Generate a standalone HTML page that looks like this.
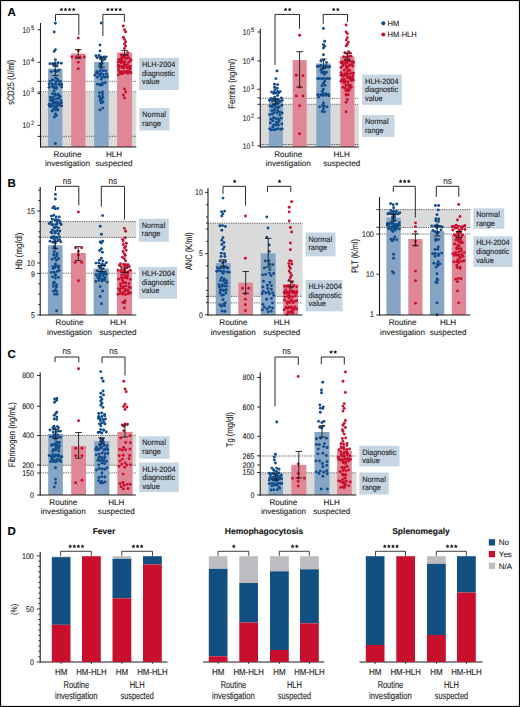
<!DOCTYPE html>
<html><head><meta charset="utf-8"><style>
html,body{margin:0;padding:0;background:#fff;}
svg{display:block;font-family:"Liberation Sans", sans-serif;text-rendering:geometricPrecision;}
text{stroke:#2a2a2a;stroke-width:0.12px;}
</style></head><body>
<svg width="520" height="707" viewBox="0 0 520 707">
<rect x="0.00" y="0.00" width="520.00" height="707.00" fill="#fff"/>
<rect x="0.5" y="0.5" width="519" height="706" fill="none" stroke="#000" stroke-width="1.2"/>
<text x="7.50" y="15.50" font-size="11.5" text-anchor="start" font-weight="bold" fill="#000">A</text>
<text x="7.50" y="187.00" font-size="11.5" text-anchor="start" font-weight="bold" fill="#000">B</text>
<text x="7.50" y="358.00" font-size="11.5" text-anchor="start" font-weight="bold" fill="#000">C</text>
<text x="7.50" y="535.00" font-size="11.5" text-anchor="start" font-weight="bold" fill="#000">D</text>
<rect x="40.50" y="92.60" width="95.80" height="54.40" fill="#dadada"/>
<line x1="40.50" y1="81.30" x2="136.30" y2="81.30" stroke="#4a4a4a" stroke-width="0.85" stroke-dasharray="1.3,1.0"/>
<line x1="40.50" y1="91.80" x2="136.30" y2="91.80" stroke="#4a4a4a" stroke-width="0.85" stroke-dasharray="1.3,1.0"/>
<line x1="40.50" y1="136.30" x2="136.30" y2="136.30" stroke="#4a4a4a" stroke-width="0.85" stroke-dasharray="1.3,1.0"/>
<rect x="48.10" y="68.60" width="14.30" height="78.40" fill="#86a5c4"/>
<rect x="71.20" y="53.50" width="14.30" height="93.50" fill="#df8796"/>
<rect x="94.20" y="62.00" width="14.50" height="85.00" fill="#86a5c4"/>
<rect x="117.10" y="52.50" width="15.00" height="94.50" fill="#df8796"/>
<circle cx="55.40" cy="23.30" r="1.45" fill="#104c8a"/>
<circle cx="54.20" cy="32.00" r="1.45" fill="#104c8a"/>
<circle cx="55.40" cy="49.60" r="1.45" fill="#104c8a"/>
<circle cx="54.20" cy="51.40" r="1.45" fill="#104c8a"/>
<circle cx="55.40" cy="59.80" r="1.45" fill="#104c8a"/>
<circle cx="49.97" cy="63.65" r="1.45" fill="#104c8a"/>
<circle cx="52.56" cy="63.77" r="1.45" fill="#104c8a"/>
<circle cx="55.05" cy="62.88" r="1.45" fill="#104c8a"/>
<circle cx="58.09" cy="62.70" r="1.45" fill="#104c8a"/>
<circle cx="61.27" cy="63.24" r="1.45" fill="#104c8a"/>
<circle cx="53.97" cy="65.80" r="1.45" fill="#104c8a"/>
<circle cx="57.06" cy="66.00" r="1.45" fill="#104c8a"/>
<circle cx="51.07" cy="71.58" r="1.45" fill="#104c8a"/>
<circle cx="54.41" cy="70.90" r="1.45" fill="#104c8a"/>
<circle cx="56.86" cy="71.30" r="1.45" fill="#104c8a"/>
<circle cx="58.97" cy="70.19" r="1.45" fill="#104c8a"/>
<circle cx="52.13" cy="79.91" r="1.45" fill="#104c8a"/>
<circle cx="55.58" cy="78.07" r="1.45" fill="#104c8a"/>
<circle cx="57.51" cy="79.08" r="1.45" fill="#104c8a"/>
<circle cx="50.03" cy="81.36" r="1.45" fill="#104c8a"/>
<circle cx="53.02" cy="80.09" r="1.45" fill="#104c8a"/>
<circle cx="55.93" cy="81.43" r="1.45" fill="#104c8a"/>
<circle cx="58.16" cy="81.03" r="1.45" fill="#104c8a"/>
<circle cx="60.61" cy="81.41" r="1.45" fill="#104c8a"/>
<circle cx="49.10" cy="84.10" r="1.45" fill="#104c8a"/>
<circle cx="52.12" cy="84.03" r="1.45" fill="#104c8a"/>
<circle cx="54.65" cy="84.23" r="1.45" fill="#104c8a"/>
<circle cx="56.18" cy="84.20" r="1.45" fill="#104c8a"/>
<circle cx="59.34" cy="84.06" r="1.45" fill="#104c8a"/>
<circle cx="61.70" cy="84.26" r="1.45" fill="#104c8a"/>
<circle cx="49.11" cy="87.24" r="1.45" fill="#104c8a"/>
<circle cx="52.11" cy="86.34" r="1.45" fill="#104c8a"/>
<circle cx="53.77" cy="87.13" r="1.45" fill="#104c8a"/>
<circle cx="56.40" cy="87.43" r="1.45" fill="#104c8a"/>
<circle cx="59.75" cy="85.06" r="1.45" fill="#104c8a"/>
<circle cx="61.70" cy="86.91" r="1.45" fill="#104c8a"/>
<circle cx="54.16" cy="87.94" r="1.45" fill="#104c8a"/>
<circle cx="56.19" cy="88.58" r="1.45" fill="#104c8a"/>
<circle cx="54.20" cy="91.10" r="1.45" fill="#104c8a"/>
<circle cx="52.60" cy="93.62" r="1.45" fill="#104c8a"/>
<circle cx="55.01" cy="94.15" r="1.45" fill="#104c8a"/>
<circle cx="58.16" cy="94.23" r="1.45" fill="#104c8a"/>
<circle cx="50.33" cy="97.42" r="1.45" fill="#104c8a"/>
<circle cx="52.73" cy="97.25" r="1.45" fill="#104c8a"/>
<circle cx="55.27" cy="95.45" r="1.45" fill="#104c8a"/>
<circle cx="58.09" cy="95.28" r="1.45" fill="#104c8a"/>
<circle cx="60.24" cy="96.57" r="1.45" fill="#104c8a"/>
<circle cx="51.53" cy="99.87" r="1.45" fill="#104c8a"/>
<circle cx="53.65" cy="99.33" r="1.45" fill="#104c8a"/>
<circle cx="56.42" cy="98.94" r="1.45" fill="#104c8a"/>
<circle cx="58.86" cy="98.16" r="1.45" fill="#104c8a"/>
<circle cx="50.54" cy="100.39" r="1.45" fill="#104c8a"/>
<circle cx="52.79" cy="101.57" r="1.45" fill="#104c8a"/>
<circle cx="55.35" cy="102.13" r="1.45" fill="#104c8a"/>
<circle cx="57.82" cy="102.23" r="1.45" fill="#104c8a"/>
<circle cx="60.86" cy="100.49" r="1.45" fill="#104c8a"/>
<circle cx="49.10" cy="104.25" r="1.45" fill="#104c8a"/>
<circle cx="50.37" cy="104.38" r="1.45" fill="#104c8a"/>
<circle cx="53.14" cy="103.35" r="1.45" fill="#104c8a"/>
<circle cx="54.58" cy="102.66" r="1.45" fill="#104c8a"/>
<circle cx="55.94" cy="103.77" r="1.45" fill="#104c8a"/>
<circle cx="58.11" cy="104.14" r="1.45" fill="#104c8a"/>
<circle cx="59.88" cy="103.71" r="1.45" fill="#104c8a"/>
<circle cx="61.53" cy="102.64" r="1.45" fill="#104c8a"/>
<circle cx="49.47" cy="106.00" r="1.45" fill="#104c8a"/>
<circle cx="51.36" cy="106.47" r="1.45" fill="#104c8a"/>
<circle cx="53.36" cy="105.79" r="1.45" fill="#104c8a"/>
<circle cx="55.02" cy="107.17" r="1.45" fill="#104c8a"/>
<circle cx="57.01" cy="106.18" r="1.45" fill="#104c8a"/>
<circle cx="59.66" cy="105.37" r="1.45" fill="#104c8a"/>
<circle cx="61.70" cy="105.89" r="1.45" fill="#104c8a"/>
<circle cx="53.11" cy="109.76" r="1.45" fill="#104c8a"/>
<circle cx="55.61" cy="107.90" r="1.45" fill="#104c8a"/>
<circle cx="57.60" cy="109.57" r="1.45" fill="#104c8a"/>
<circle cx="52.12" cy="111.11" r="1.45" fill="#104c8a"/>
<circle cx="55.71" cy="110.08" r="1.45" fill="#104c8a"/>
<circle cx="57.80" cy="110.03" r="1.45" fill="#104c8a"/>
<circle cx="55.40" cy="114.00" r="1.45" fill="#104c8a"/>
<circle cx="54.41" cy="117.00" r="1.45" fill="#104c8a"/>
<circle cx="56.37" cy="115.50" r="1.45" fill="#104c8a"/>
<circle cx="55.40" cy="143.50" r="1.45" fill="#104c8a"/>
<circle cx="78.30" cy="38.00" r="1.45" fill="#c8102e"/>
<circle cx="78.30" cy="50.80" r="1.45" fill="#c8102e"/>
<circle cx="71.90" cy="57.00" r="1.45" fill="#c8102e"/>
<circle cx="76.20" cy="57.00" r="1.45" fill="#c8102e"/>
<circle cx="80.10" cy="57.00" r="1.45" fill="#c8102e"/>
<circle cx="84.30" cy="57.00" r="1.45" fill="#c8102e"/>
<circle cx="78.30" cy="62.20" r="1.45" fill="#c8102e"/>
<circle cx="78.30" cy="68.80" r="1.45" fill="#c8102e"/>
<circle cx="101.20" cy="23.00" r="1.45" fill="#104c8a"/>
<circle cx="100.00" cy="45.00" r="1.45" fill="#104c8a"/>
<circle cx="100.00" cy="50.90" r="1.45" fill="#104c8a"/>
<circle cx="95.93" cy="55.81" r="1.45" fill="#104c8a"/>
<circle cx="98.99" cy="55.48" r="1.45" fill="#104c8a"/>
<circle cx="101.16" cy="57.01" r="1.45" fill="#104c8a"/>
<circle cx="103.96" cy="56.88" r="1.45" fill="#104c8a"/>
<circle cx="106.23" cy="56.85" r="1.45" fill="#104c8a"/>
<circle cx="97.03" cy="57.69" r="1.45" fill="#104c8a"/>
<circle cx="100.28" cy="58.77" r="1.45" fill="#104c8a"/>
<circle cx="102.23" cy="59.14" r="1.45" fill="#104c8a"/>
<circle cx="104.83" cy="59.28" r="1.45" fill="#104c8a"/>
<circle cx="102.40" cy="60.59" r="1.45" fill="#104c8a"/>
<circle cx="100.06" cy="64.05" r="1.45" fill="#104c8a"/>
<circle cx="102.03" cy="63.51" r="1.45" fill="#104c8a"/>
<circle cx="100.00" cy="65.47" r="1.45" fill="#104c8a"/>
<circle cx="101.20" cy="67.94" r="1.45" fill="#104c8a"/>
<circle cx="97.12" cy="71.58" r="1.45" fill="#104c8a"/>
<circle cx="100.11" cy="70.75" r="1.45" fill="#104c8a"/>
<circle cx="103.00" cy="70.71" r="1.45" fill="#104c8a"/>
<circle cx="105.51" cy="70.81" r="1.45" fill="#104c8a"/>
<circle cx="96.36" cy="72.69" r="1.45" fill="#104c8a"/>
<circle cx="98.06" cy="73.41" r="1.45" fill="#104c8a"/>
<circle cx="101.04" cy="73.48" r="1.45" fill="#104c8a"/>
<circle cx="103.34" cy="74.79" r="1.45" fill="#104c8a"/>
<circle cx="106.59" cy="74.01" r="1.45" fill="#104c8a"/>
<circle cx="94.99" cy="75.16" r="1.45" fill="#104c8a"/>
<circle cx="97.46" cy="77.24" r="1.45" fill="#104c8a"/>
<circle cx="99.83" cy="75.43" r="1.45" fill="#104c8a"/>
<circle cx="102.14" cy="77.41" r="1.45" fill="#104c8a"/>
<circle cx="104.78" cy="77.19" r="1.45" fill="#104c8a"/>
<circle cx="107.50" cy="76.72" r="1.45" fill="#104c8a"/>
<circle cx="101.20" cy="79.33" r="1.45" fill="#104c8a"/>
<circle cx="97.39" cy="84.14" r="1.45" fill="#104c8a"/>
<circle cx="99.64" cy="84.52" r="1.45" fill="#104c8a"/>
<circle cx="102.60" cy="82.96" r="1.45" fill="#104c8a"/>
<circle cx="105.34" cy="82.74" r="1.45" fill="#104c8a"/>
<circle cx="100.11" cy="85.12" r="1.45" fill="#104c8a"/>
<circle cx="102.20" cy="85.05" r="1.45" fill="#104c8a"/>
<circle cx="102.40" cy="92.01" r="1.45" fill="#104c8a"/>
<circle cx="99.40" cy="92.80" r="1.45" fill="#104c8a"/>
<circle cx="102.53" cy="94.47" r="1.45" fill="#104c8a"/>
<circle cx="99.36" cy="96.20" r="1.45" fill="#104c8a"/>
<circle cx="102.91" cy="97.23" r="1.45" fill="#104c8a"/>
<circle cx="100.33" cy="97.95" r="1.45" fill="#104c8a"/>
<circle cx="101.97" cy="98.98" r="1.45" fill="#104c8a"/>
<circle cx="100.17" cy="100.45" r="1.45" fill="#104c8a"/>
<circle cx="103.00" cy="102.05" r="1.45" fill="#104c8a"/>
<circle cx="101.20" cy="102.91" r="1.45" fill="#104c8a"/>
<circle cx="99.98" cy="109.89" r="1.45" fill="#104c8a"/>
<circle cx="102.86" cy="108.10" r="1.45" fill="#104c8a"/>
<circle cx="123.30" cy="26.00" r="1.45" fill="#c8102e"/>
<circle cx="124.50" cy="29.70" r="1.45" fill="#c8102e"/>
<circle cx="125.70" cy="31.90" r="1.45" fill="#c8102e"/>
<circle cx="123.30" cy="37.26" r="1.45" fill="#c8102e"/>
<circle cx="124.50" cy="39.41" r="1.45" fill="#c8102e"/>
<circle cx="125.70" cy="41.82" r="1.45" fill="#c8102e"/>
<circle cx="124.50" cy="43.91" r="1.45" fill="#c8102e"/>
<circle cx="125.70" cy="46.09" r="1.45" fill="#c8102e"/>
<circle cx="124.50" cy="48.52" r="1.45" fill="#c8102e"/>
<circle cx="121.28" cy="54.83" r="1.45" fill="#c8102e"/>
<circle cx="124.38" cy="54.96" r="1.45" fill="#c8102e"/>
<circle cx="127.70" cy="52.82" r="1.45" fill="#c8102e"/>
<circle cx="121.82" cy="57.20" r="1.45" fill="#c8102e"/>
<circle cx="124.33" cy="57.26" r="1.45" fill="#c8102e"/>
<circle cx="127.54" cy="55.40" r="1.45" fill="#c8102e"/>
<circle cx="118.56" cy="59.61" r="1.45" fill="#c8102e"/>
<circle cx="119.93" cy="59.40" r="1.45" fill="#c8102e"/>
<circle cx="122.17" cy="59.71" r="1.45" fill="#c8102e"/>
<circle cx="124.65" cy="58.06" r="1.45" fill="#c8102e"/>
<circle cx="126.88" cy="58.38" r="1.45" fill="#c8102e"/>
<circle cx="129.13" cy="58.01" r="1.45" fill="#c8102e"/>
<circle cx="130.80" cy="60.00" r="1.45" fill="#c8102e"/>
<circle cx="118.21" cy="62.16" r="1.45" fill="#c8102e"/>
<circle cx="120.33" cy="61.55" r="1.45" fill="#c8102e"/>
<circle cx="123.21" cy="61.98" r="1.45" fill="#c8102e"/>
<circle cx="125.27" cy="61.62" r="1.45" fill="#c8102e"/>
<circle cx="128.80" cy="62.08" r="1.45" fill="#c8102e"/>
<circle cx="130.80" cy="60.39" r="1.45" fill="#c8102e"/>
<circle cx="121.21" cy="62.78" r="1.45" fill="#c8102e"/>
<circle cx="124.25" cy="64.10" r="1.45" fill="#c8102e"/>
<circle cx="127.45" cy="64.42" r="1.45" fill="#c8102e"/>
<circle cx="118.20" cy="65.17" r="1.45" fill="#c8102e"/>
<circle cx="119.59" cy="65.81" r="1.45" fill="#c8102e"/>
<circle cx="121.57" cy="66.38" r="1.45" fill="#c8102e"/>
<circle cx="123.98" cy="65.86" r="1.45" fill="#c8102e"/>
<circle cx="124.85" cy="65.21" r="1.45" fill="#c8102e"/>
<circle cx="126.66" cy="67.05" r="1.45" fill="#c8102e"/>
<circle cx="129.15" cy="66.59" r="1.45" fill="#c8102e"/>
<circle cx="130.54" cy="66.34" r="1.45" fill="#c8102e"/>
<circle cx="118.67" cy="67.54" r="1.45" fill="#c8102e"/>
<circle cx="122.01" cy="67.67" r="1.45" fill="#c8102e"/>
<circle cx="123.98" cy="68.05" r="1.45" fill="#c8102e"/>
<circle cx="127.70" cy="68.06" r="1.45" fill="#c8102e"/>
<circle cx="130.06" cy="68.89" r="1.45" fill="#c8102e"/>
<circle cx="118.36" cy="70.01" r="1.45" fill="#c8102e"/>
<circle cx="119.64" cy="72.17" r="1.45" fill="#c8102e"/>
<circle cx="121.59" cy="71.82" r="1.45" fill="#c8102e"/>
<circle cx="124.01" cy="71.51" r="1.45" fill="#c8102e"/>
<circle cx="125.65" cy="72.30" r="1.45" fill="#c8102e"/>
<circle cx="126.93" cy="71.29" r="1.45" fill="#c8102e"/>
<circle cx="129.10" cy="71.40" r="1.45" fill="#c8102e"/>
<circle cx="130.80" cy="72.50" r="1.45" fill="#c8102e"/>
<circle cx="118.20" cy="74.95" r="1.45" fill="#c8102e"/>
<circle cx="120.55" cy="73.78" r="1.45" fill="#c8102e"/>
<circle cx="122.74" cy="73.65" r="1.45" fill="#c8102e"/>
<circle cx="126.32" cy="72.81" r="1.45" fill="#c8102e"/>
<circle cx="128.02" cy="73.30" r="1.45" fill="#c8102e"/>
<circle cx="130.80" cy="72.77" r="1.45" fill="#c8102e"/>
<circle cx="124.50" cy="89.00" r="1.45" fill="#c8102e"/>
<circle cx="125.70" cy="92.00" r="1.45" fill="#c8102e"/>
<circle cx="123.30" cy="95.00" r="1.45" fill="#c8102e"/>
<circle cx="124.50" cy="98.00" r="1.45" fill="#c8102e"/>
<path d="M52.10,64.00 H58.50 M55.30,64.00 V75.60 M52.10,75.60 H58.50" fill="none" stroke="#1a1a1a" stroke-width="0.9"/>
<path d="M75.10,49.60 H81.50 M78.30,49.60 V58.30 M75.10,58.30 H81.50" fill="none" stroke="#1a1a1a" stroke-width="0.9"/>
<path d="M98.30,57.30 H104.70 M101.50,57.30 V67.00 M98.30,67.00 H104.70" fill="none" stroke="#1a1a1a" stroke-width="0.9"/>
<path d="M121.40,50.60 H127.80 M124.60,50.60 V55.00 M121.40,55.00 H127.80" fill="none" stroke="#1a1a1a" stroke-width="0.9"/>
<line x1="40.50" y1="23.00" x2="40.50" y2="147.50" stroke="#1a1a1a" stroke-width="1.1"/>
<line x1="40.00" y1="147.00" x2="136.30" y2="147.00" stroke="#1a1a1a" stroke-width="1.1"/>
<line x1="37.50" y1="29.80" x2="40.50" y2="29.80" stroke="#1a1a1a" stroke-width="0.9"/>
<line x1="37.50" y1="62.30" x2="40.50" y2="62.30" stroke="#1a1a1a" stroke-width="0.9"/>
<line x1="37.50" y1="81.40" x2="40.50" y2="81.40" stroke="#1a1a1a" stroke-width="0.9"/>
<line x1="37.50" y1="92.00" x2="40.50" y2="92.00" stroke="#1a1a1a" stroke-width="0.9"/>
<line x1="37.50" y1="93.60" x2="40.50" y2="93.60" stroke="#1a1a1a" stroke-width="0.9"/>
<line x1="37.50" y1="125.40" x2="40.50" y2="125.40" stroke="#1a1a1a" stroke-width="0.9"/>
<line x1="37.50" y1="136.40" x2="40.50" y2="136.40" stroke="#1a1a1a" stroke-width="0.9"/>
<text x="22.60" y="32.80" font-size="8.3" fill="#222" textLength="7.4" lengthAdjust="spacingAndGlyphs">10</text>
<text x="30.90" y="29.60" font-size="6.3" fill="#222" textLength="3.1" lengthAdjust="spacingAndGlyphs">5</text>
<text x="22.60" y="65.30" font-size="8.3" fill="#222" textLength="7.4" lengthAdjust="spacingAndGlyphs">10</text>
<text x="30.90" y="62.10" font-size="6.3" fill="#222" textLength="3.1" lengthAdjust="spacingAndGlyphs">4</text>
<text x="22.60" y="95.50" font-size="8.3" fill="#222" textLength="7.4" lengthAdjust="spacingAndGlyphs">10</text>
<text x="30.90" y="92.30" font-size="6.3" fill="#222" textLength="3.1" lengthAdjust="spacingAndGlyphs">3</text>
<text x="22.60" y="128.40" font-size="8.3" fill="#222" textLength="7.4" lengthAdjust="spacingAndGlyphs">10</text>
<text x="30.90" y="125.20" font-size="6.3" fill="#222" textLength="3.1" lengthAdjust="spacingAndGlyphs">2</text>
<text x="0" y="0" font-size="9.5" text-anchor="middle" fill="#222" transform="translate(14.40,82.30) rotate(-90)" textLength="45" lengthAdjust="spacingAndGlyphs">sCD25 (U/ml)</text>
<path d="M55.50,21.00 V14.40 H78.80 V35.00" fill="none" stroke="#2a2a2a" stroke-width="1.0"/>
<polygon points="61.40,7.40 61.99,8.68 63.40,8.85 62.36,9.81 62.63,11.20 61.40,10.51 60.17,11.20 60.44,9.81 59.40,8.85 60.81,8.68" fill="#1a1a1a"/>
<polygon points="65.50,7.40 66.09,8.68 67.50,8.85 66.46,9.81 66.73,11.20 65.50,10.51 64.27,11.20 64.54,9.81 63.50,8.85 64.91,8.68" fill="#1a1a1a"/>
<polygon points="69.60,7.40 70.19,8.68 71.60,8.85 70.56,9.81 70.83,11.20 69.60,10.51 68.37,11.20 68.64,9.81 67.60,8.85 69.01,8.68" fill="#1a1a1a"/>
<polygon points="73.70,7.40 74.29,8.68 75.70,8.85 74.66,9.81 74.93,11.20 73.70,10.51 72.47,11.20 72.74,9.81 71.70,8.85 73.11,8.68" fill="#1a1a1a"/>
<path d="M102.90,36.00 V14.40 H124.40 V22.00" fill="none" stroke="#2a2a2a" stroke-width="1.0"/>
<polygon points="107.90,7.40 108.49,8.68 109.90,8.85 108.86,9.81 109.13,11.20 107.90,10.51 106.67,11.20 106.94,9.81 105.90,8.85 107.31,8.68" fill="#1a1a1a"/>
<polygon points="112.00,7.40 112.59,8.68 114.00,8.85 112.96,9.81 113.23,11.20 112.00,10.51 110.77,11.20 111.04,9.81 110.00,8.85 111.41,8.68" fill="#1a1a1a"/>
<polygon points="116.10,7.40 116.69,8.68 118.10,8.85 117.06,9.81 117.33,11.20 116.10,10.51 114.87,11.20 115.14,9.81 114.10,8.85 115.51,8.68" fill="#1a1a1a"/>
<polygon points="120.20,7.40 120.79,8.68 122.20,8.85 121.16,9.81 121.43,11.20 120.20,10.51 118.97,11.20 119.24,9.81 118.20,8.85 119.61,8.68" fill="#1a1a1a"/>
<text x="67.50" y="157.10" font-size="8.1" text-anchor="middle" font-weight="normal" fill="#222">Routine</text>
<text x="67.50" y="166.20" font-size="8.1" text-anchor="middle" font-weight="normal" fill="#222">investigation</text>
<text x="114.00" y="157.10" font-size="8.1" text-anchor="middle" font-weight="normal" fill="#222">HLH</text>
<text x="114.00" y="166.20" font-size="8.1" text-anchor="middle" font-weight="normal" fill="#222">suspected</text>
<rect x="139.10" y="57.90" width="39.80" height="32.10" fill="#c6d5e2"/>
<text x="142.00" y="66.90" font-size="7.8" text-anchor="start" font-weight="normal" fill="#222" textLength="33.42" lengthAdjust="spacingAndGlyphs">HLH-2004</text>
<text x="142.00" y="75.50" font-size="7.8" text-anchor="start" font-weight="normal" fill="#222" textLength="33.02" lengthAdjust="spacingAndGlyphs">diagnostic</text>
<text x="142.00" y="84.10" font-size="7.8" text-anchor="start" font-weight="normal" fill="#222" textLength="17.53" lengthAdjust="spacingAndGlyphs">value</text>
<rect x="139.40" y="108.00" width="30.10" height="22.50" fill="#c6d5e2"/>
<text x="142.30" y="117.00" font-size="7.8" text-anchor="start" font-weight="normal" fill="#222" textLength="23.63" lengthAdjust="spacingAndGlyphs">Normal</text>
<text x="142.30" y="125.60" font-size="7.8" text-anchor="start" font-weight="normal" fill="#222" textLength="18.75" lengthAdjust="spacingAndGlyphs">range</text>
<rect x="260.30" y="104.60" width="98.50" height="42.40" fill="#dadada"/>
<line x1="260.30" y1="98.30" x2="358.80" y2="98.30" stroke="#4a4a4a" stroke-width="0.85" stroke-dasharray="1.3,1.0"/>
<line x1="260.30" y1="104.30" x2="358.80" y2="104.30" stroke="#4a4a4a" stroke-width="0.85" stroke-dasharray="1.3,1.0"/>
<line x1="260.30" y1="144.50" x2="358.80" y2="144.50" stroke="#4a4a4a" stroke-width="0.85" stroke-dasharray="1.3,1.0"/>
<rect x="268.80" y="101.40" width="14.10" height="45.60" fill="#86a5c4"/>
<rect x="292.60" y="60.10" width="14.10" height="86.90" fill="#df8796"/>
<rect x="316.30" y="63.40" width="14.20" height="83.60" fill="#86a5c4"/>
<rect x="340.40" y="56.60" width="14.10" height="90.40" fill="#df8796"/>
<circle cx="277.10" cy="71.00" r="1.45" fill="#104c8a"/>
<circle cx="275.90" cy="78.60" r="1.45" fill="#104c8a"/>
<circle cx="274.49" cy="84.20" r="1.45" fill="#104c8a"/>
<circle cx="277.68" cy="84.60" r="1.45" fill="#104c8a"/>
<circle cx="274.70" cy="87.13" r="1.45" fill="#104c8a"/>
<circle cx="274.91" cy="89.64" r="1.45" fill="#104c8a"/>
<circle cx="277.22" cy="88.22" r="1.45" fill="#104c8a"/>
<circle cx="271.61" cy="92.09" r="1.45" fill="#104c8a"/>
<circle cx="274.06" cy="92.14" r="1.45" fill="#104c8a"/>
<circle cx="277.62" cy="91.43" r="1.45" fill="#104c8a"/>
<circle cx="280.18" cy="91.59" r="1.45" fill="#104c8a"/>
<circle cx="273.76" cy="93.56" r="1.45" fill="#104c8a"/>
<circle cx="276.08" cy="93.05" r="1.45" fill="#104c8a"/>
<circle cx="278.74" cy="92.72" r="1.45" fill="#104c8a"/>
<circle cx="274.70" cy="97.09" r="1.45" fill="#104c8a"/>
<circle cx="277.65" cy="95.52" r="1.45" fill="#104c8a"/>
<circle cx="270.96" cy="98.48" r="1.45" fill="#104c8a"/>
<circle cx="273.32" cy="98.96" r="1.45" fill="#104c8a"/>
<circle cx="276.23" cy="99.34" r="1.45" fill="#104c8a"/>
<circle cx="278.39" cy="99.91" r="1.45" fill="#104c8a"/>
<circle cx="281.41" cy="98.02" r="1.45" fill="#104c8a"/>
<circle cx="269.60" cy="100.25" r="1.45" fill="#104c8a"/>
<circle cx="272.31" cy="100.90" r="1.45" fill="#104c8a"/>
<circle cx="274.59" cy="100.79" r="1.45" fill="#104c8a"/>
<circle cx="276.89" cy="101.78" r="1.45" fill="#104c8a"/>
<circle cx="280.28" cy="101.23" r="1.45" fill="#104c8a"/>
<circle cx="282.20" cy="100.34" r="1.45" fill="#104c8a"/>
<circle cx="272.98" cy="104.71" r="1.45" fill="#104c8a"/>
<circle cx="275.58" cy="104.09" r="1.45" fill="#104c8a"/>
<circle cx="278.35" cy="103.04" r="1.45" fill="#104c8a"/>
<circle cx="270.02" cy="105.88" r="1.45" fill="#104c8a"/>
<circle cx="271.98" cy="106.63" r="1.45" fill="#104c8a"/>
<circle cx="275.19" cy="105.74" r="1.45" fill="#104c8a"/>
<circle cx="277.58" cy="107.25" r="1.45" fill="#104c8a"/>
<circle cx="279.08" cy="106.90" r="1.45" fill="#104c8a"/>
<circle cx="281.85" cy="105.35" r="1.45" fill="#104c8a"/>
<circle cx="274.51" cy="108.64" r="1.45" fill="#104c8a"/>
<circle cx="277.83" cy="108.09" r="1.45" fill="#104c8a"/>
<circle cx="271.93" cy="110.81" r="1.45" fill="#104c8a"/>
<circle cx="274.19" cy="110.37" r="1.45" fill="#104c8a"/>
<circle cx="277.46" cy="110.72" r="1.45" fill="#104c8a"/>
<circle cx="279.75" cy="112.10" r="1.45" fill="#104c8a"/>
<circle cx="269.60" cy="114.61" r="1.45" fill="#104c8a"/>
<circle cx="272.37" cy="113.99" r="1.45" fill="#104c8a"/>
<circle cx="274.05" cy="112.85" r="1.45" fill="#104c8a"/>
<circle cx="277.12" cy="112.63" r="1.45" fill="#104c8a"/>
<circle cx="279.66" cy="114.91" r="1.45" fill="#104c8a"/>
<circle cx="282.20" cy="113.04" r="1.45" fill="#104c8a"/>
<circle cx="271.08" cy="119.20" r="1.45" fill="#104c8a"/>
<circle cx="273.52" cy="117.70" r="1.45" fill="#104c8a"/>
<circle cx="275.80" cy="118.49" r="1.45" fill="#104c8a"/>
<circle cx="278.46" cy="118.93" r="1.45" fill="#104c8a"/>
<circle cx="281.17" cy="118.14" r="1.45" fill="#104c8a"/>
<circle cx="272.92" cy="120.65" r="1.45" fill="#104c8a"/>
<circle cx="276.47" cy="122.26" r="1.45" fill="#104c8a"/>
<circle cx="278.96" cy="120.19" r="1.45" fill="#104c8a"/>
<circle cx="270.37" cy="122.91" r="1.45" fill="#104c8a"/>
<circle cx="273.63" cy="124.96" r="1.45" fill="#104c8a"/>
<circle cx="276.07" cy="124.89" r="1.45" fill="#104c8a"/>
<circle cx="278.12" cy="122.52" r="1.45" fill="#104c8a"/>
<circle cx="281.89" cy="123.91" r="1.45" fill="#104c8a"/>
<circle cx="272.91" cy="127.13" r="1.45" fill="#104c8a"/>
<circle cx="276.23" cy="125.11" r="1.45" fill="#104c8a"/>
<circle cx="278.39" cy="125.09" r="1.45" fill="#104c8a"/>
<circle cx="269.70" cy="128.85" r="1.45" fill="#104c8a"/>
<circle cx="271.39" cy="129.92" r="1.45" fill="#104c8a"/>
<circle cx="273.92" cy="129.86" r="1.45" fill="#104c8a"/>
<circle cx="275.75" cy="129.43" r="1.45" fill="#104c8a"/>
<circle cx="277.94" cy="128.66" r="1.45" fill="#104c8a"/>
<circle cx="280.65" cy="129.37" r="1.45" fill="#104c8a"/>
<circle cx="282.18" cy="128.87" r="1.45" fill="#104c8a"/>
<circle cx="299.60" cy="35.30" r="1.45" fill="#c8102e"/>
<circle cx="296.30" cy="75.20" r="1.45" fill="#c8102e"/>
<circle cx="303.00" cy="75.60" r="1.45" fill="#c8102e"/>
<circle cx="299.60" cy="87.00" r="1.45" fill="#c8102e"/>
<circle cx="296.30" cy="96.00" r="1.45" fill="#c8102e"/>
<circle cx="303.00" cy="96.00" r="1.45" fill="#c8102e"/>
<circle cx="299.60" cy="105.70" r="1.45" fill="#c8102e"/>
<circle cx="299.60" cy="133.80" r="1.45" fill="#c8102e"/>
<circle cx="323.40" cy="28.50" r="1.45" fill="#104c8a"/>
<circle cx="324.60" cy="41.20" r="1.45" fill="#104c8a"/>
<circle cx="323.40" cy="44.60" r="1.45" fill="#104c8a"/>
<circle cx="324.60" cy="46.30" r="1.45" fill="#104c8a"/>
<circle cx="323.40" cy="48.00" r="1.45" fill="#104c8a"/>
<circle cx="323.40" cy="54.80" r="1.45" fill="#104c8a"/>
<circle cx="320.88" cy="61.00" r="1.45" fill="#104c8a"/>
<circle cx="323.60" cy="60.00" r="1.45" fill="#104c8a"/>
<circle cx="326.54" cy="62.40" r="1.45" fill="#104c8a"/>
<circle cx="317.39" cy="66.57" r="1.45" fill="#104c8a"/>
<circle cx="318.64" cy="66.23" r="1.45" fill="#104c8a"/>
<circle cx="320.85" cy="65.56" r="1.45" fill="#104c8a"/>
<circle cx="323.62" cy="66.70" r="1.45" fill="#104c8a"/>
<circle cx="326.10" cy="65.77" r="1.45" fill="#104c8a"/>
<circle cx="328.19" cy="67.11" r="1.45" fill="#104c8a"/>
<circle cx="329.70" cy="66.77" r="1.45" fill="#104c8a"/>
<circle cx="322.50" cy="69.18" r="1.45" fill="#104c8a"/>
<circle cx="325.12" cy="67.54" r="1.45" fill="#104c8a"/>
<circle cx="320.99" cy="70.38" r="1.45" fill="#104c8a"/>
<circle cx="323.94" cy="72.22" r="1.45" fill="#104c8a"/>
<circle cx="326.45" cy="72.21" r="1.45" fill="#104c8a"/>
<circle cx="321.88" cy="72.81" r="1.45" fill="#104c8a"/>
<circle cx="324.43" cy="74.19" r="1.45" fill="#104c8a"/>
<circle cx="317.57" cy="78.60" r="1.45" fill="#104c8a"/>
<circle cx="319.37" cy="78.60" r="1.45" fill="#104c8a"/>
<circle cx="321.49" cy="78.60" r="1.45" fill="#104c8a"/>
<circle cx="323.22" cy="78.60" r="1.45" fill="#104c8a"/>
<circle cx="325.61" cy="78.60" r="1.45" fill="#104c8a"/>
<circle cx="327.76" cy="78.60" r="1.45" fill="#104c8a"/>
<circle cx="329.42" cy="78.60" r="1.45" fill="#104c8a"/>
<circle cx="324.60" cy="81.25" r="1.45" fill="#104c8a"/>
<circle cx="323.40" cy="83.49" r="1.45" fill="#104c8a"/>
<circle cx="321.98" cy="85.69" r="1.45" fill="#104c8a"/>
<circle cx="325.02" cy="85.36" r="1.45" fill="#104c8a"/>
<circle cx="323.40" cy="89.28" r="1.45" fill="#104c8a"/>
<circle cx="322.20" cy="91.34" r="1.45" fill="#104c8a"/>
<circle cx="317.70" cy="94.77" r="1.45" fill="#104c8a"/>
<circle cx="320.65" cy="94.70" r="1.45" fill="#104c8a"/>
<circle cx="323.53" cy="93.66" r="1.45" fill="#104c8a"/>
<circle cx="325.97" cy="93.84" r="1.45" fill="#104c8a"/>
<circle cx="328.36" cy="94.49" r="1.45" fill="#104c8a"/>
<circle cx="318.46" cy="97.14" r="1.45" fill="#104c8a"/>
<circle cx="320.94" cy="95.05" r="1.45" fill="#104c8a"/>
<circle cx="322.96" cy="95.45" r="1.45" fill="#104c8a"/>
<circle cx="326.02" cy="95.24" r="1.45" fill="#104c8a"/>
<circle cx="328.95" cy="95.81" r="1.45" fill="#104c8a"/>
<circle cx="323.40" cy="102.97" r="1.45" fill="#104c8a"/>
<circle cx="319.61" cy="106.87" r="1.45" fill="#104c8a"/>
<circle cx="322.57" cy="105.42" r="1.45" fill="#104c8a"/>
<circle cx="324.20" cy="106.05" r="1.45" fill="#104c8a"/>
<circle cx="327.02" cy="106.87" r="1.45" fill="#104c8a"/>
<circle cx="323.40" cy="108.55" r="1.45" fill="#104c8a"/>
<circle cx="322.22" cy="111.48" r="1.45" fill="#104c8a"/>
<circle cx="324.34" cy="111.75" r="1.45" fill="#104c8a"/>
<circle cx="346.10" cy="25.00" r="1.45" fill="#c8102e"/>
<circle cx="346.10" cy="31.90" r="1.45" fill="#c8102e"/>
<circle cx="347.30" cy="33.60" r="1.45" fill="#c8102e"/>
<circle cx="347.30" cy="37.76" r="1.45" fill="#c8102e"/>
<circle cx="346.23" cy="40.12" r="1.45" fill="#c8102e"/>
<circle cx="348.40" cy="42.09" r="1.45" fill="#c8102e"/>
<circle cx="347.30" cy="44.26" r="1.45" fill="#c8102e"/>
<circle cx="346.10" cy="45.86" r="1.45" fill="#c8102e"/>
<circle cx="348.50" cy="51.59" r="1.45" fill="#c8102e"/>
<circle cx="344.82" cy="52.75" r="1.45" fill="#c8102e"/>
<circle cx="347.18" cy="53.93" r="1.45" fill="#c8102e"/>
<circle cx="350.33" cy="53.15" r="1.45" fill="#c8102e"/>
<circle cx="343.69" cy="56.77" r="1.45" fill="#c8102e"/>
<circle cx="345.73" cy="57.13" r="1.45" fill="#c8102e"/>
<circle cx="349.02" cy="56.35" r="1.45" fill="#c8102e"/>
<circle cx="351.18" cy="56.13" r="1.45" fill="#c8102e"/>
<circle cx="345.54" cy="59.90" r="1.45" fill="#c8102e"/>
<circle cx="348.85" cy="59.62" r="1.45" fill="#c8102e"/>
<circle cx="341.00" cy="62.31" r="1.45" fill="#c8102e"/>
<circle cx="342.83" cy="62.06" r="1.45" fill="#c8102e"/>
<circle cx="345.62" cy="62.00" r="1.45" fill="#c8102e"/>
<circle cx="347.16" cy="62.06" r="1.45" fill="#c8102e"/>
<circle cx="349.50" cy="61.15" r="1.45" fill="#c8102e"/>
<circle cx="352.02" cy="61.69" r="1.45" fill="#c8102e"/>
<circle cx="353.60" cy="61.89" r="1.45" fill="#c8102e"/>
<circle cx="341.30" cy="62.68" r="1.45" fill="#c8102e"/>
<circle cx="343.08" cy="63.63" r="1.45" fill="#c8102e"/>
<circle cx="345.41" cy="63.84" r="1.45" fill="#c8102e"/>
<circle cx="347.02" cy="62.97" r="1.45" fill="#c8102e"/>
<circle cx="349.55" cy="64.85" r="1.45" fill="#c8102e"/>
<circle cx="351.48" cy="64.33" r="1.45" fill="#c8102e"/>
<circle cx="353.34" cy="62.60" r="1.45" fill="#c8102e"/>
<circle cx="341.00" cy="67.41" r="1.45" fill="#c8102e"/>
<circle cx="342.95" cy="65.60" r="1.45" fill="#c8102e"/>
<circle cx="346.33" cy="66.21" r="1.45" fill="#c8102e"/>
<circle cx="348.10" cy="66.63" r="1.45" fill="#c8102e"/>
<circle cx="351.11" cy="65.26" r="1.45" fill="#c8102e"/>
<circle cx="353.11" cy="66.05" r="1.45" fill="#c8102e"/>
<circle cx="346.52" cy="68.07" r="1.45" fill="#c8102e"/>
<circle cx="348.25" cy="69.89" r="1.45" fill="#c8102e"/>
<circle cx="344.37" cy="70.22" r="1.45" fill="#c8102e"/>
<circle cx="347.25" cy="72.04" r="1.45" fill="#c8102e"/>
<circle cx="349.90" cy="70.56" r="1.45" fill="#c8102e"/>
<circle cx="341.00" cy="72.67" r="1.45" fill="#c8102e"/>
<circle cx="342.37" cy="74.52" r="1.45" fill="#c8102e"/>
<circle cx="344.84" cy="73.70" r="1.45" fill="#c8102e"/>
<circle cx="346.49" cy="74.66" r="1.45" fill="#c8102e"/>
<circle cx="347.62" cy="74.33" r="1.45" fill="#c8102e"/>
<circle cx="350.25" cy="73.62" r="1.45" fill="#c8102e"/>
<circle cx="352.33" cy="73.17" r="1.45" fill="#c8102e"/>
<circle cx="353.51" cy="73.12" r="1.45" fill="#c8102e"/>
<circle cx="341.00" cy="75.17" r="1.45" fill="#c8102e"/>
<circle cx="343.14" cy="76.28" r="1.45" fill="#c8102e"/>
<circle cx="344.65" cy="75.60" r="1.45" fill="#c8102e"/>
<circle cx="347.37" cy="77.46" r="1.45" fill="#c8102e"/>
<circle cx="349.76" cy="76.81" r="1.45" fill="#c8102e"/>
<circle cx="351.01" cy="77.39" r="1.45" fill="#c8102e"/>
<circle cx="353.12" cy="75.98" r="1.45" fill="#c8102e"/>
<circle cx="342.00" cy="79.47" r="1.45" fill="#c8102e"/>
<circle cx="344.34" cy="79.40" r="1.45" fill="#c8102e"/>
<circle cx="347.82" cy="78.03" r="1.45" fill="#c8102e"/>
<circle cx="349.83" cy="78.62" r="1.45" fill="#c8102e"/>
<circle cx="352.40" cy="78.23" r="1.45" fill="#c8102e"/>
<circle cx="341.00" cy="81.19" r="1.45" fill="#c8102e"/>
<circle cx="343.52" cy="81.14" r="1.45" fill="#c8102e"/>
<circle cx="345.66" cy="81.77" r="1.45" fill="#c8102e"/>
<circle cx="348.21" cy="81.72" r="1.45" fill="#c8102e"/>
<circle cx="351.30" cy="80.45" r="1.45" fill="#c8102e"/>
<circle cx="353.40" cy="80.05" r="1.45" fill="#c8102e"/>
<circle cx="344.04" cy="82.91" r="1.45" fill="#c8102e"/>
<circle cx="347.81" cy="84.78" r="1.45" fill="#c8102e"/>
<circle cx="350.29" cy="84.98" r="1.45" fill="#c8102e"/>
<circle cx="343.09" cy="87.26" r="1.45" fill="#c8102e"/>
<circle cx="345.81" cy="85.43" r="1.45" fill="#c8102e"/>
<circle cx="349.20" cy="87.18" r="1.45" fill="#c8102e"/>
<circle cx="351.41" cy="86.95" r="1.45" fill="#c8102e"/>
<circle cx="345.10" cy="88.12" r="1.45" fill="#c8102e"/>
<circle cx="347.44" cy="89.49" r="1.45" fill="#c8102e"/>
<circle cx="349.70" cy="89.33" r="1.45" fill="#c8102e"/>
<circle cx="345.91" cy="90.59" r="1.45" fill="#c8102e"/>
<circle cx="348.46" cy="90.99" r="1.45" fill="#c8102e"/>
<circle cx="346.32" cy="94.32" r="1.45" fill="#c8102e"/>
<circle cx="348.21" cy="94.84" r="1.45" fill="#c8102e"/>
<circle cx="346.10" cy="95.12" r="1.45" fill="#c8102e"/>
<circle cx="347.30" cy="99.57" r="1.45" fill="#c8102e"/>
<circle cx="346.10" cy="102.30" r="1.45" fill="#c8102e"/>
<circle cx="346.10" cy="111.70" r="1.45" fill="#c8102e"/>
<path d="M272.60,99.00 H279.00 M275.80,99.00 V104.00 M272.60,104.00 H279.00" fill="none" stroke="#1a1a1a" stroke-width="0.9"/>
<path d="M296.40,51.70 H302.80 M299.60,51.70 V87.20 M296.40,87.20 H302.80" fill="none" stroke="#1a1a1a" stroke-width="0.9"/>
<path d="M320.20,59.10 H326.60 M323.40,59.10 V68.00 M320.20,68.00 H326.60" fill="none" stroke="#1a1a1a" stroke-width="0.9"/>
<path d="M344.20,53.00 H350.60 M347.40,53.00 V60.00 M344.20,60.00 H350.60" fill="none" stroke="#1a1a1a" stroke-width="0.9"/>
<line x1="260.30" y1="28.70" x2="260.30" y2="147.50" stroke="#1a1a1a" stroke-width="1.1"/>
<line x1="259.80" y1="147.00" x2="358.80" y2="147.00" stroke="#1a1a1a" stroke-width="1.1"/>
<line x1="257.30" y1="32.00" x2="260.30" y2="32.00" stroke="#1a1a1a" stroke-width="0.9"/>
<line x1="257.30" y1="61.00" x2="260.30" y2="61.00" stroke="#1a1a1a" stroke-width="0.9"/>
<line x1="257.30" y1="89.30" x2="260.30" y2="89.30" stroke="#1a1a1a" stroke-width="0.9"/>
<line x1="257.30" y1="97.90" x2="260.30" y2="97.90" stroke="#1a1a1a" stroke-width="0.9"/>
<line x1="257.30" y1="104.30" x2="260.30" y2="104.30" stroke="#1a1a1a" stroke-width="0.9"/>
<line x1="257.30" y1="118.00" x2="260.30" y2="118.00" stroke="#1a1a1a" stroke-width="0.9"/>
<line x1="257.30" y1="145.80" x2="260.30" y2="145.80" stroke="#1a1a1a" stroke-width="0.9"/>
<text x="242.80" y="35.00" font-size="8.3" fill="#222" textLength="7.4" lengthAdjust="spacingAndGlyphs">10</text>
<text x="251.10" y="31.80" font-size="6.3" fill="#222" textLength="3.1" lengthAdjust="spacingAndGlyphs">5</text>
<text x="242.80" y="64.00" font-size="8.3" fill="#222" textLength="7.4" lengthAdjust="spacingAndGlyphs">10</text>
<text x="251.10" y="60.80" font-size="6.3" fill="#222" textLength="3.1" lengthAdjust="spacingAndGlyphs">4</text>
<text x="242.80" y="92.30" font-size="8.3" fill="#222" textLength="7.4" lengthAdjust="spacingAndGlyphs">10</text>
<text x="251.10" y="89.10" font-size="6.3" fill="#222" textLength="3.1" lengthAdjust="spacingAndGlyphs">3</text>
<text x="242.80" y="121.00" font-size="8.3" fill="#222" textLength="7.4" lengthAdjust="spacingAndGlyphs">10</text>
<text x="251.10" y="117.80" font-size="6.3" fill="#222" textLength="3.1" lengthAdjust="spacingAndGlyphs">2</text>
<text x="242.80" y="148.80" font-size="8.3" fill="#222" textLength="7.4" lengthAdjust="spacingAndGlyphs">10</text>
<text x="251.10" y="145.60" font-size="6.3" fill="#222" textLength="3.1" lengthAdjust="spacingAndGlyphs">1</text>
<text x="0" y="0" font-size="9.5" text-anchor="middle" fill="#222" transform="translate(235.40,83.80) rotate(-90)" textLength="50" lengthAdjust="spacingAndGlyphs">Ferritin (ng/ml)</text>
<path d="M275.00,65.00 V14.40 H299.50 V28.70" fill="none" stroke="#2a2a2a" stroke-width="1.0"/>
<polygon points="285.60,7.40 286.19,8.68 287.60,8.85 286.56,9.81 286.83,11.20 285.60,10.51 284.37,11.20 284.64,9.81 283.60,8.85 285.01,8.68" fill="#1a1a1a"/>
<polygon points="289.70,7.40 290.29,8.68 291.70,8.85 290.66,9.81 290.93,11.20 289.70,10.51 288.47,11.20 288.74,9.81 287.70,8.85 289.11,8.68" fill="#1a1a1a"/>
<path d="M323.20,23.80 V14.40 H347.50 V21.90" fill="none" stroke="#2a2a2a" stroke-width="1.0"/>
<polygon points="333.70,7.40 334.29,8.68 335.70,8.85 334.66,9.81 334.93,11.20 333.70,10.51 332.47,11.20 332.74,9.81 331.70,8.85 333.11,8.68" fill="#1a1a1a"/>
<polygon points="337.80,7.40 338.39,8.68 339.80,8.85 338.76,9.81 339.03,11.20 337.80,10.51 336.57,11.20 336.84,9.81 335.80,8.85 337.21,8.68" fill="#1a1a1a"/>
<text x="288.20" y="157.10" font-size="8.1" text-anchor="middle" font-weight="normal" fill="#222">Routine</text>
<text x="288.20" y="166.20" font-size="8.1" text-anchor="middle" font-weight="normal" fill="#222">investigation</text>
<text x="341.70" y="157.10" font-size="8.1" text-anchor="middle" font-weight="normal" fill="#222">HLH</text>
<text x="341.70" y="166.20" font-size="8.1" text-anchor="middle" font-weight="normal" fill="#222">suspected</text>
<rect x="362.20" y="74.50" width="39.60" height="30.40" fill="#c6d5e2"/>
<text x="365.10" y="83.50" font-size="7.8" text-anchor="start" font-weight="normal" fill="#222" textLength="33.42" lengthAdjust="spacingAndGlyphs">HLH-2004</text>
<text x="365.10" y="92.10" font-size="7.8" text-anchor="start" font-weight="normal" fill="#222" textLength="33.02" lengthAdjust="spacingAndGlyphs">diagnostic</text>
<text x="365.10" y="100.70" font-size="7.8" text-anchor="start" font-weight="normal" fill="#222" textLength="17.53" lengthAdjust="spacingAndGlyphs">value</text>
<rect x="362.00" y="115.00" width="32.50" height="22.00" fill="#c6d5e2"/>
<text x="364.90" y="124.00" font-size="7.8" text-anchor="start" font-weight="normal" fill="#222" textLength="23.63" lengthAdjust="spacingAndGlyphs">Normal</text>
<text x="364.90" y="132.60" font-size="7.8" text-anchor="start" font-weight="normal" fill="#222" textLength="18.75" lengthAdjust="spacingAndGlyphs">range</text>
<circle cx="383.3" cy="23.3" r="2.05" fill="#104c8a"/>
<text x="387.50" y="26.00" font-size="7.5" text-anchor="start" font-weight="normal" fill="#222">HM</text>
<circle cx="383.3" cy="34.5" r="2.05" fill="#c8102e"/>
<text x="387.50" y="37.20" font-size="7.5" text-anchor="start" font-weight="normal" fill="#222">HM-HLH</text>
<rect x="40.20" y="221.60" width="96.10" height="15.80" fill="#dadada"/>
<line x1="40.20" y1="221.60" x2="136.30" y2="221.60" stroke="#4a4a4a" stroke-width="0.85" stroke-dasharray="1.3,1.0"/>
<line x1="40.20" y1="237.40" x2="136.30" y2="237.40" stroke="#4a4a4a" stroke-width="0.85" stroke-dasharray="1.3,1.0"/>
<line x1="40.20" y1="273.20" x2="136.30" y2="273.20" stroke="#4a4a4a" stroke-width="0.85" stroke-dasharray="1.3,1.0"/>
<rect x="47.90" y="245.30" width="14.70" height="69.70" fill="#86a5c4"/>
<rect x="70.90" y="252.90" width="14.90" height="62.10" fill="#df8796"/>
<rect x="93.60" y="268.50" width="15.10" height="46.50" fill="#86a5c4"/>
<rect x="116.90" y="270.10" width="15.20" height="44.90" fill="#df8796"/>
<circle cx="55.40" cy="194.40" r="1.45" fill="#104c8a"/>
<circle cx="55.40" cy="199.00" r="1.45" fill="#104c8a"/>
<circle cx="54.20" cy="206.66" r="1.45" fill="#104c8a"/>
<circle cx="52.86" cy="207.92" r="1.45" fill="#104c8a"/>
<circle cx="55.37" cy="208.76" r="1.45" fill="#104c8a"/>
<circle cx="57.76" cy="208.54" r="1.45" fill="#104c8a"/>
<circle cx="51.36" cy="216.08" r="1.45" fill="#104c8a"/>
<circle cx="53.73" cy="215.28" r="1.45" fill="#104c8a"/>
<circle cx="56.15" cy="216.84" r="1.45" fill="#104c8a"/>
<circle cx="59.30" cy="216.88" r="1.45" fill="#104c8a"/>
<circle cx="52.18" cy="219.08" r="1.45" fill="#104c8a"/>
<circle cx="55.75" cy="219.82" r="1.45" fill="#104c8a"/>
<circle cx="57.78" cy="219.89" r="1.45" fill="#104c8a"/>
<circle cx="51.27" cy="222.00" r="1.45" fill="#104c8a"/>
<circle cx="54.64" cy="220.02" r="1.45" fill="#104c8a"/>
<circle cx="57.07" cy="221.78" r="1.45" fill="#104c8a"/>
<circle cx="59.34" cy="220.66" r="1.45" fill="#104c8a"/>
<circle cx="49.28" cy="223.49" r="1.45" fill="#104c8a"/>
<circle cx="51.73" cy="224.64" r="1.45" fill="#104c8a"/>
<circle cx="52.73" cy="224.58" r="1.45" fill="#104c8a"/>
<circle cx="55.69" cy="224.67" r="1.45" fill="#104c8a"/>
<circle cx="57.01" cy="224.01" r="1.45" fill="#104c8a"/>
<circle cx="59.97" cy="222.72" r="1.45" fill="#104c8a"/>
<circle cx="61.12" cy="224.57" r="1.45" fill="#104c8a"/>
<circle cx="54.11" cy="227.23" r="1.45" fill="#104c8a"/>
<circle cx="56.56" cy="226.89" r="1.45" fill="#104c8a"/>
<circle cx="52.32" cy="229.88" r="1.45" fill="#104c8a"/>
<circle cx="54.84" cy="227.84" r="1.45" fill="#104c8a"/>
<circle cx="58.54" cy="227.91" r="1.45" fill="#104c8a"/>
<circle cx="51.00" cy="232.25" r="1.45" fill="#104c8a"/>
<circle cx="54.61" cy="231.12" r="1.45" fill="#104c8a"/>
<circle cx="57.22" cy="230.63" r="1.45" fill="#104c8a"/>
<circle cx="59.76" cy="230.94" r="1.45" fill="#104c8a"/>
<circle cx="52.25" cy="233.05" r="1.45" fill="#104c8a"/>
<circle cx="55.37" cy="232.94" r="1.45" fill="#104c8a"/>
<circle cx="58.49" cy="233.78" r="1.45" fill="#104c8a"/>
<circle cx="51.82" cy="237.12" r="1.45" fill="#104c8a"/>
<circle cx="53.94" cy="236.51" r="1.45" fill="#104c8a"/>
<circle cx="56.59" cy="237.31" r="1.45" fill="#104c8a"/>
<circle cx="59.39" cy="236.73" r="1.45" fill="#104c8a"/>
<circle cx="51.21" cy="237.73" r="1.45" fill="#104c8a"/>
<circle cx="53.48" cy="238.62" r="1.45" fill="#104c8a"/>
<circle cx="56.26" cy="238.05" r="1.45" fill="#104c8a"/>
<circle cx="59.71" cy="239.78" r="1.45" fill="#104c8a"/>
<circle cx="50.06" cy="241.27" r="1.45" fill="#104c8a"/>
<circle cx="53.00" cy="242.25" r="1.45" fill="#104c8a"/>
<circle cx="55.07" cy="240.46" r="1.45" fill="#104c8a"/>
<circle cx="58.23" cy="240.00" r="1.45" fill="#104c8a"/>
<circle cx="60.87" cy="241.85" r="1.45" fill="#104c8a"/>
<circle cx="55.40" cy="242.94" r="1.45" fill="#104c8a"/>
<circle cx="54.20" cy="246.80" r="1.45" fill="#104c8a"/>
<circle cx="55.40" cy="248.70" r="1.45" fill="#104c8a"/>
<circle cx="54.20" cy="251.68" r="1.45" fill="#104c8a"/>
<circle cx="54.20" cy="254.61" r="1.45" fill="#104c8a"/>
<circle cx="57.15" cy="253.39" r="1.45" fill="#104c8a"/>
<circle cx="53.87" cy="255.05" r="1.45" fill="#104c8a"/>
<circle cx="56.87" cy="255.90" r="1.45" fill="#104c8a"/>
<circle cx="52.22" cy="259.37" r="1.45" fill="#104c8a"/>
<circle cx="54.88" cy="258.00" r="1.45" fill="#104c8a"/>
<circle cx="58.48" cy="258.47" r="1.45" fill="#104c8a"/>
<circle cx="56.60" cy="260.29" r="1.45" fill="#104c8a"/>
<circle cx="55.40" cy="264.02" r="1.45" fill="#104c8a"/>
<circle cx="52.92" cy="266.61" r="1.45" fill="#104c8a"/>
<circle cx="55.61" cy="265.79" r="1.45" fill="#104c8a"/>
<circle cx="58.58" cy="265.86" r="1.45" fill="#104c8a"/>
<circle cx="53.20" cy="268.56" r="1.45" fill="#104c8a"/>
<circle cx="55.00" cy="267.55" r="1.45" fill="#104c8a"/>
<circle cx="58.39" cy="267.51" r="1.45" fill="#104c8a"/>
<circle cx="51.36" cy="272.37" r="1.45" fill="#104c8a"/>
<circle cx="54.25" cy="272.18" r="1.45" fill="#104c8a"/>
<circle cx="57.27" cy="271.51" r="1.45" fill="#104c8a"/>
<circle cx="59.15" cy="270.40" r="1.45" fill="#104c8a"/>
<circle cx="55.40" cy="274.77" r="1.45" fill="#104c8a"/>
<circle cx="52.63" cy="276.84" r="1.45" fill="#104c8a"/>
<circle cx="55.29" cy="275.04" r="1.45" fill="#104c8a"/>
<circle cx="58.39" cy="277.35" r="1.45" fill="#104c8a"/>
<circle cx="55.40" cy="277.96" r="1.45" fill="#104c8a"/>
<circle cx="54.20" cy="282.17" r="1.45" fill="#104c8a"/>
<circle cx="53.51" cy="283.49" r="1.45" fill="#104c8a"/>
<circle cx="56.46" cy="284.77" r="1.45" fill="#104c8a"/>
<circle cx="53.49" cy="286.38" r="1.45" fill="#104c8a"/>
<circle cx="56.45" cy="286.97" r="1.45" fill="#104c8a"/>
<circle cx="55.40" cy="289.64" r="1.45" fill="#104c8a"/>
<circle cx="53.53" cy="291.21" r="1.45" fill="#104c8a"/>
<circle cx="56.56" cy="291.38" r="1.45" fill="#104c8a"/>
<circle cx="54.63" cy="294.37" r="1.45" fill="#104c8a"/>
<circle cx="57.05" cy="294.28" r="1.45" fill="#104c8a"/>
<circle cx="56.60" cy="310.80" r="1.45" fill="#104c8a"/>
<circle cx="78.40" cy="211.90" r="1.45" fill="#c8102e"/>
<circle cx="75.60" cy="247.70" r="1.45" fill="#c8102e"/>
<circle cx="81.70" cy="247.70" r="1.45" fill="#c8102e"/>
<circle cx="78.40" cy="251.40" r="1.45" fill="#c8102e"/>
<circle cx="78.40" cy="255.00" r="1.45" fill="#c8102e"/>
<circle cx="75.20" cy="262.40" r="1.45" fill="#c8102e"/>
<circle cx="81.70" cy="262.40" r="1.45" fill="#c8102e"/>
<circle cx="78.40" cy="280.80" r="1.45" fill="#c8102e"/>
<circle cx="102.60" cy="215.60" r="1.45" fill="#104c8a"/>
<circle cx="100.20" cy="226.20" r="1.45" fill="#104c8a"/>
<circle cx="101.40" cy="234.30" r="1.45" fill="#104c8a"/>
<circle cx="100.16" cy="242.00" r="1.45" fill="#104c8a"/>
<circle cx="102.66" cy="241.30" r="1.45" fill="#104c8a"/>
<circle cx="101.40" cy="243.00" r="1.45" fill="#104c8a"/>
<circle cx="101.40" cy="248.70" r="1.45" fill="#104c8a"/>
<circle cx="99.61" cy="250.50" r="1.45" fill="#104c8a"/>
<circle cx="102.38" cy="252.30" r="1.45" fill="#104c8a"/>
<circle cx="101.40" cy="258.27" r="1.45" fill="#104c8a"/>
<circle cx="99.47" cy="260.17" r="1.45" fill="#104c8a"/>
<circle cx="102.89" cy="261.12" r="1.45" fill="#104c8a"/>
<circle cx="95.91" cy="263.11" r="1.45" fill="#104c8a"/>
<circle cx="98.72" cy="262.98" r="1.45" fill="#104c8a"/>
<circle cx="101.68" cy="263.99" r="1.45" fill="#104c8a"/>
<circle cx="103.93" cy="264.78" r="1.45" fill="#104c8a"/>
<circle cx="106.27" cy="262.80" r="1.45" fill="#104c8a"/>
<circle cx="98.89" cy="266.51" r="1.45" fill="#104c8a"/>
<circle cx="101.55" cy="265.45" r="1.45" fill="#104c8a"/>
<circle cx="104.66" cy="265.45" r="1.45" fill="#104c8a"/>
<circle cx="100.13" cy="267.99" r="1.45" fill="#104c8a"/>
<circle cx="103.18" cy="268.68" r="1.45" fill="#104c8a"/>
<circle cx="97.44" cy="270.91" r="1.45" fill="#104c8a"/>
<circle cx="100.43" cy="271.98" r="1.45" fill="#104c8a"/>
<circle cx="102.36" cy="272.21" r="1.45" fill="#104c8a"/>
<circle cx="105.43" cy="272.07" r="1.45" fill="#104c8a"/>
<circle cx="96.04" cy="274.73" r="1.45" fill="#104c8a"/>
<circle cx="98.91" cy="274.09" r="1.45" fill="#104c8a"/>
<circle cx="101.42" cy="273.47" r="1.45" fill="#104c8a"/>
<circle cx="104.20" cy="274.03" r="1.45" fill="#104c8a"/>
<circle cx="106.30" cy="274.28" r="1.45" fill="#104c8a"/>
<circle cx="97.88" cy="277.07" r="1.45" fill="#104c8a"/>
<circle cx="99.79" cy="276.07" r="1.45" fill="#104c8a"/>
<circle cx="102.86" cy="275.65" r="1.45" fill="#104c8a"/>
<circle cx="104.98" cy="277.48" r="1.45" fill="#104c8a"/>
<circle cx="97.82" cy="277.52" r="1.45" fill="#104c8a"/>
<circle cx="100.00" cy="278.24" r="1.45" fill="#104c8a"/>
<circle cx="102.41" cy="279.19" r="1.45" fill="#104c8a"/>
<circle cx="105.03" cy="279.12" r="1.45" fill="#104c8a"/>
<circle cx="95.69" cy="281.56" r="1.45" fill="#104c8a"/>
<circle cx="98.75" cy="280.56" r="1.45" fill="#104c8a"/>
<circle cx="101.90" cy="280.95" r="1.45" fill="#104c8a"/>
<circle cx="104.21" cy="280.37" r="1.45" fill="#104c8a"/>
<circle cx="107.33" cy="282.12" r="1.45" fill="#104c8a"/>
<circle cx="100.20" cy="286.60" r="1.45" fill="#104c8a"/>
<circle cx="102.60" cy="291.00" r="1.45" fill="#104c8a"/>
<circle cx="100.20" cy="296.50" r="1.45" fill="#104c8a"/>
<circle cx="101.40" cy="303.80" r="1.45" fill="#104c8a"/>
<circle cx="124.40" cy="228.40" r="1.45" fill="#c8102e"/>
<circle cx="125.60" cy="231.20" r="1.45" fill="#c8102e"/>
<circle cx="122.71" cy="239.56" r="1.45" fill="#c8102e"/>
<circle cx="125.35" cy="237.71" r="1.45" fill="#c8102e"/>
<circle cx="123.20" cy="240.94" r="1.45" fill="#c8102e"/>
<circle cx="123.30" cy="244.49" r="1.45" fill="#c8102e"/>
<circle cx="126.35" cy="243.20" r="1.45" fill="#c8102e"/>
<circle cx="125.60" cy="246.55" r="1.45" fill="#c8102e"/>
<circle cx="124.40" cy="247.97" r="1.45" fill="#c8102e"/>
<circle cx="122.98" cy="251.55" r="1.45" fill="#c8102e"/>
<circle cx="126.19" cy="250.14" r="1.45" fill="#c8102e"/>
<circle cx="124.40" cy="253.65" r="1.45" fill="#c8102e"/>
<circle cx="122.48" cy="257.23" r="1.45" fill="#c8102e"/>
<circle cx="125.35" cy="255.43" r="1.45" fill="#c8102e"/>
<circle cx="124.40" cy="258.81" r="1.45" fill="#c8102e"/>
<circle cx="125.60" cy="260.83" r="1.45" fill="#c8102e"/>
<circle cx="120.35" cy="263.80" r="1.45" fill="#c8102e"/>
<circle cx="123.64" cy="264.32" r="1.45" fill="#c8102e"/>
<circle cx="125.97" cy="264.60" r="1.45" fill="#c8102e"/>
<circle cx="128.15" cy="264.71" r="1.45" fill="#c8102e"/>
<circle cx="119.55" cy="265.33" r="1.45" fill="#c8102e"/>
<circle cx="121.19" cy="266.61" r="1.45" fill="#c8102e"/>
<circle cx="124.58" cy="266.24" r="1.45" fill="#c8102e"/>
<circle cx="127.29" cy="265.85" r="1.45" fill="#c8102e"/>
<circle cx="129.24" cy="266.72" r="1.45" fill="#c8102e"/>
<circle cx="121.51" cy="269.79" r="1.45" fill="#c8102e"/>
<circle cx="124.69" cy="269.53" r="1.45" fill="#c8102e"/>
<circle cx="126.87" cy="267.64" r="1.45" fill="#c8102e"/>
<circle cx="118.10" cy="270.14" r="1.45" fill="#c8102e"/>
<circle cx="120.91" cy="271.58" r="1.45" fill="#c8102e"/>
<circle cx="123.65" cy="271.61" r="1.45" fill="#c8102e"/>
<circle cx="125.17" cy="272.32" r="1.45" fill="#c8102e"/>
<circle cx="128.17" cy="271.97" r="1.45" fill="#c8102e"/>
<circle cx="130.29" cy="270.32" r="1.45" fill="#c8102e"/>
<circle cx="121.68" cy="274.86" r="1.45" fill="#c8102e"/>
<circle cx="124.60" cy="274.45" r="1.45" fill="#c8102e"/>
<circle cx="127.67" cy="273.65" r="1.45" fill="#c8102e"/>
<circle cx="121.71" cy="277.37" r="1.45" fill="#c8102e"/>
<circle cx="125.00" cy="277.02" r="1.45" fill="#c8102e"/>
<circle cx="127.42" cy="276.20" r="1.45" fill="#c8102e"/>
<circle cx="118.71" cy="279.11" r="1.45" fill="#c8102e"/>
<circle cx="121.87" cy="278.61" r="1.45" fill="#c8102e"/>
<circle cx="124.58" cy="277.87" r="1.45" fill="#c8102e"/>
<circle cx="126.97" cy="278.23" r="1.45" fill="#c8102e"/>
<circle cx="130.15" cy="279.44" r="1.45" fill="#c8102e"/>
<circle cx="122.53" cy="280.51" r="1.45" fill="#c8102e"/>
<circle cx="125.59" cy="282.39" r="1.45" fill="#c8102e"/>
<circle cx="120.64" cy="283.69" r="1.45" fill="#c8102e"/>
<circle cx="123.44" cy="282.81" r="1.45" fill="#c8102e"/>
<circle cx="125.56" cy="282.97" r="1.45" fill="#c8102e"/>
<circle cx="128.91" cy="283.52" r="1.45" fill="#c8102e"/>
<circle cx="120.80" cy="286.09" r="1.45" fill="#c8102e"/>
<circle cx="123.29" cy="286.82" r="1.45" fill="#c8102e"/>
<circle cx="125.68" cy="285.97" r="1.45" fill="#c8102e"/>
<circle cx="128.79" cy="286.67" r="1.45" fill="#c8102e"/>
<circle cx="118.47" cy="289.03" r="1.45" fill="#c8102e"/>
<circle cx="120.67" cy="288.61" r="1.45" fill="#c8102e"/>
<circle cx="123.23" cy="287.95" r="1.45" fill="#c8102e"/>
<circle cx="125.55" cy="289.41" r="1.45" fill="#c8102e"/>
<circle cx="128.06" cy="289.96" r="1.45" fill="#c8102e"/>
<circle cx="130.36" cy="287.81" r="1.45" fill="#c8102e"/>
<circle cx="119.92" cy="291.08" r="1.45" fill="#c8102e"/>
<circle cx="123.34" cy="292.11" r="1.45" fill="#c8102e"/>
<circle cx="125.23" cy="291.12" r="1.45" fill="#c8102e"/>
<circle cx="128.54" cy="292.11" r="1.45" fill="#c8102e"/>
<circle cx="118.10" cy="294.20" r="1.45" fill="#c8102e"/>
<circle cx="120.49" cy="293.22" r="1.45" fill="#c8102e"/>
<circle cx="122.89" cy="294.33" r="1.45" fill="#c8102e"/>
<circle cx="125.60" cy="294.51" r="1.45" fill="#c8102e"/>
<circle cx="128.39" cy="293.73" r="1.45" fill="#c8102e"/>
<circle cx="130.55" cy="293.05" r="1.45" fill="#c8102e"/>
<circle cx="122.93" cy="302.20" r="1.45" fill="#c8102e"/>
<circle cx="125.17" cy="300.81" r="1.45" fill="#c8102e"/>
<circle cx="124.40" cy="302.91" r="1.45" fill="#c8102e"/>
<circle cx="124.40" cy="307.88" r="1.45" fill="#c8102e"/>
<path d="M52.10,241.50 H58.50 M55.30,241.50 V248.30 M52.10,248.30 H58.50" fill="none" stroke="#1a1a1a" stroke-width="0.9"/>
<path d="M75.10,246.70 H81.50 M78.30,246.70 V260.60 M75.10,260.60 H81.50" fill="none" stroke="#1a1a1a" stroke-width="0.9"/>
<path d="M98.00,265.50 H104.40 M101.20,265.50 V271.50 M98.00,271.50 H104.40" fill="none" stroke="#1a1a1a" stroke-width="0.9"/>
<path d="M121.30,268.00 H127.70 M124.50,268.00 V272.50 M121.30,272.50 H127.70" fill="none" stroke="#1a1a1a" stroke-width="0.9"/>
<line x1="40.20" y1="187.00" x2="40.20" y2="315.50" stroke="#1a1a1a" stroke-width="1.1"/>
<line x1="39.70" y1="315.00" x2="136.30" y2="315.00" stroke="#1a1a1a" stroke-width="1.1"/>
<line x1="37.20" y1="315.00" x2="40.20" y2="315.00" stroke="#1a1a1a" stroke-width="0.9"/>
<line x1="38.20" y1="304.60" x2="40.20" y2="304.60" stroke="#1a1a1a" stroke-width="0.9"/>
<line x1="38.20" y1="294.20" x2="40.20" y2="294.20" stroke="#1a1a1a" stroke-width="0.9"/>
<line x1="38.20" y1="283.80" x2="40.20" y2="283.80" stroke="#1a1a1a" stroke-width="0.9"/>
<line x1="37.20" y1="273.40" x2="40.20" y2="273.40" stroke="#1a1a1a" stroke-width="0.9"/>
<line x1="37.20" y1="263.00" x2="40.20" y2="263.00" stroke="#1a1a1a" stroke-width="0.9"/>
<line x1="38.20" y1="252.60" x2="40.20" y2="252.60" stroke="#1a1a1a" stroke-width="0.9"/>
<line x1="38.20" y1="242.20" x2="40.20" y2="242.20" stroke="#1a1a1a" stroke-width="0.9"/>
<line x1="38.20" y1="231.80" x2="40.20" y2="231.80" stroke="#1a1a1a" stroke-width="0.9"/>
<line x1="38.20" y1="221.40" x2="40.20" y2="221.40" stroke="#1a1a1a" stroke-width="0.9"/>
<line x1="37.20" y1="211.00" x2="40.20" y2="211.00" stroke="#1a1a1a" stroke-width="0.9"/>
<line x1="38.20" y1="200.60" x2="40.20" y2="200.60" stroke="#1a1a1a" stroke-width="0.9"/>
<line x1="38.20" y1="190.20" x2="40.20" y2="190.20" stroke="#1a1a1a" stroke-width="0.9"/>
<line x1="38.20" y1="237.00" x2="40.20" y2="237.00" stroke="#1a1a1a" stroke-width="0.9"/>
<text x="34.80" y="213.60" font-size="8.2" text-anchor="end" font-weight="normal" fill="#222" textLength="7.7" lengthAdjust="spacingAndGlyphs">15</text>
<text x="34.80" y="266.00" font-size="8.2" text-anchor="end" font-weight="normal" fill="#222" textLength="7.7" lengthAdjust="spacingAndGlyphs">10</text>
<text x="34.80" y="276.60" font-size="8.2" text-anchor="end" font-weight="normal" fill="#222" textLength="3.9" lengthAdjust="spacingAndGlyphs">9</text>
<text x="34.80" y="318.10" font-size="8.2" text-anchor="end" font-weight="normal" fill="#222" textLength="3.9" lengthAdjust="spacingAndGlyphs">5</text>
<text x="0" y="0" font-size="9.5" text-anchor="middle" fill="#222" transform="translate(21.70,251.00) rotate(-90)" textLength="37" lengthAdjust="spacingAndGlyphs">Hb (mg/dl)</text>
<path d="M55.50,191.00 V186.30 H78.80 V205.50" fill="none" stroke="#2a2a2a" stroke-width="1.0"/>
<text x="67.15" y="183.60" font-size="9.2" text-anchor="middle" font-weight="normal" fill="#2a2a2a" textLength="8.6" lengthAdjust="spacingAndGlyphs">ns</text>
<path d="M101.30,206.70 V186.30 H124.50 V219.60" fill="none" stroke="#2a2a2a" stroke-width="1.0"/>
<text x="112.90" y="183.60" font-size="9.2" text-anchor="middle" font-weight="normal" fill="#2a2a2a" textLength="8.6" lengthAdjust="spacingAndGlyphs">ns</text>
<text x="69.50" y="325.40" font-size="8.1" text-anchor="middle" font-weight="normal" fill="#222">Routine</text>
<text x="69.50" y="334.50" font-size="8.1" text-anchor="middle" font-weight="normal" fill="#222">investigation</text>
<text x="118.00" y="325.40" font-size="8.1" text-anchor="middle" font-weight="normal" fill="#222">HLH</text>
<text x="118.00" y="334.50" font-size="8.1" text-anchor="middle" font-weight="normal" fill="#222">suspected</text>
<rect x="138.80" y="218.80" width="30.00" height="23.00" fill="#c6d5e2"/>
<text x="141.70" y="227.80" font-size="7.8" text-anchor="start" font-weight="normal" fill="#222" textLength="23.63" lengthAdjust="spacingAndGlyphs">Normal</text>
<text x="141.70" y="236.40" font-size="7.8" text-anchor="start" font-weight="normal" fill="#222" textLength="18.75" lengthAdjust="spacingAndGlyphs">range</text>
<rect x="138.80" y="267.00" width="38.20" height="31.80" fill="#c6d5e2"/>
<text x="141.70" y="276.00" font-size="7.8" text-anchor="start" font-weight="normal" fill="#222" textLength="33.42" lengthAdjust="spacingAndGlyphs">HLH-2004</text>
<text x="141.70" y="284.60" font-size="7.8" text-anchor="start" font-weight="normal" fill="#222" textLength="33.02" lengthAdjust="spacingAndGlyphs">diagnostic</text>
<text x="141.70" y="293.20" font-size="7.8" text-anchor="start" font-weight="normal" fill="#222" textLength="17.53" lengthAdjust="spacingAndGlyphs">value</text>
<rect x="208.00" y="223.20" width="94.50" height="73.20" fill="#dadada"/>
<line x1="208.00" y1="223.20" x2="302.50" y2="223.20" stroke="#4a4a4a" stroke-width="0.85" stroke-dasharray="1.3,1.0"/>
<line x1="208.00" y1="296.40" x2="302.50" y2="296.40" stroke="#4a4a4a" stroke-width="0.85" stroke-dasharray="1.3,1.0"/>
<line x1="208.00" y1="302.90" x2="302.50" y2="302.90" stroke="#4a4a4a" stroke-width="0.85" stroke-dasharray="1.3,1.0"/>
<rect x="215.80" y="263.10" width="14.90" height="51.90" fill="#86a5c4"/>
<rect x="238.30" y="282.60" width="14.80" height="32.40" fill="#df8796"/>
<rect x="260.70" y="253.30" width="15.00" height="61.70" fill="#86a5c4"/>
<rect x="283.20" y="284.10" width="14.90" height="30.90" fill="#df8796"/>
<circle cx="223.00" cy="198.10" r="1.45" fill="#104c8a"/>
<circle cx="221.61" cy="211.82" r="1.45" fill="#104c8a"/>
<circle cx="224.67" cy="211.09" r="1.45" fill="#104c8a"/>
<circle cx="223.00" cy="213.87" r="1.45" fill="#104c8a"/>
<circle cx="221.80" cy="215.99" r="1.45" fill="#104c8a"/>
<circle cx="219.87" cy="225.80" r="1.45" fill="#104c8a"/>
<circle cx="222.53" cy="225.61" r="1.45" fill="#104c8a"/>
<circle cx="225.38" cy="226.47" r="1.45" fill="#104c8a"/>
<circle cx="221.80" cy="230.25" r="1.45" fill="#104c8a"/>
<circle cx="223.00" cy="237.64" r="1.45" fill="#104c8a"/>
<circle cx="221.80" cy="240.29" r="1.45" fill="#104c8a"/>
<circle cx="221.84" cy="244.53" r="1.45" fill="#104c8a"/>
<circle cx="223.91" cy="242.55" r="1.45" fill="#104c8a"/>
<circle cx="224.20" cy="247.07" r="1.45" fill="#104c8a"/>
<circle cx="223.00" cy="249.32" r="1.45" fill="#104c8a"/>
<circle cx="221.30" cy="253.17" r="1.45" fill="#104c8a"/>
<circle cx="224.46" cy="253.79" r="1.45" fill="#104c8a"/>
<circle cx="221.07" cy="256.51" r="1.45" fill="#104c8a"/>
<circle cx="224.88" cy="256.43" r="1.45" fill="#104c8a"/>
<circle cx="219.94" cy="260.99" r="1.45" fill="#104c8a"/>
<circle cx="222.80" cy="262.40" r="1.45" fill="#104c8a"/>
<circle cx="225.54" cy="261.47" r="1.45" fill="#104c8a"/>
<circle cx="223.00" cy="262.72" r="1.45" fill="#104c8a"/>
<circle cx="221.30" cy="267.36" r="1.45" fill="#104c8a"/>
<circle cx="224.01" cy="267.22" r="1.45" fill="#104c8a"/>
<circle cx="217.43" cy="267.70" r="1.45" fill="#104c8a"/>
<circle cx="219.94" cy="267.90" r="1.45" fill="#104c8a"/>
<circle cx="223.40" cy="267.94" r="1.45" fill="#104c8a"/>
<circle cx="226.29" cy="267.51" r="1.45" fill="#104c8a"/>
<circle cx="227.84" cy="267.97" r="1.45" fill="#104c8a"/>
<circle cx="216.70" cy="271.24" r="1.45" fill="#104c8a"/>
<circle cx="219.14" cy="270.54" r="1.45" fill="#104c8a"/>
<circle cx="221.58" cy="271.36" r="1.45" fill="#104c8a"/>
<circle cx="224.06" cy="271.41" r="1.45" fill="#104c8a"/>
<circle cx="227.16" cy="271.99" r="1.45" fill="#104c8a"/>
<circle cx="229.28" cy="272.26" r="1.45" fill="#104c8a"/>
<circle cx="223.00" cy="273.19" r="1.45" fill="#104c8a"/>
<circle cx="221.45" cy="277.65" r="1.45" fill="#104c8a"/>
<circle cx="224.15" cy="278.75" r="1.45" fill="#104c8a"/>
<circle cx="220.48" cy="280.41" r="1.45" fill="#104c8a"/>
<circle cx="223.40" cy="280.71" r="1.45" fill="#104c8a"/>
<circle cx="226.25" cy="280.58" r="1.45" fill="#104c8a"/>
<circle cx="219.02" cy="284.80" r="1.45" fill="#104c8a"/>
<circle cx="222.17" cy="285.00" r="1.45" fill="#104c8a"/>
<circle cx="224.76" cy="283.18" r="1.45" fill="#104c8a"/>
<circle cx="226.80" cy="283.03" r="1.45" fill="#104c8a"/>
<circle cx="219.46" cy="287.12" r="1.45" fill="#104c8a"/>
<circle cx="221.77" cy="286.24" r="1.45" fill="#104c8a"/>
<circle cx="224.58" cy="286.17" r="1.45" fill="#104c8a"/>
<circle cx="226.56" cy="286.17" r="1.45" fill="#104c8a"/>
<circle cx="220.79" cy="289.64" r="1.45" fill="#104c8a"/>
<circle cx="223.18" cy="289.86" r="1.45" fill="#104c8a"/>
<circle cx="226.29" cy="289.68" r="1.45" fill="#104c8a"/>
<circle cx="220.25" cy="290.67" r="1.45" fill="#104c8a"/>
<circle cx="223.36" cy="290.81" r="1.45" fill="#104c8a"/>
<circle cx="225.63" cy="290.30" r="1.45" fill="#104c8a"/>
<circle cx="220.02" cy="293.10" r="1.45" fill="#104c8a"/>
<circle cx="223.45" cy="294.88" r="1.45" fill="#104c8a"/>
<circle cx="225.86" cy="293.06" r="1.45" fill="#104c8a"/>
<circle cx="221.80" cy="295.24" r="1.45" fill="#104c8a"/>
<circle cx="223.00" cy="299.78" r="1.45" fill="#104c8a"/>
<circle cx="219.89" cy="304.72" r="1.45" fill="#104c8a"/>
<circle cx="223.59" cy="304.23" r="1.45" fill="#104c8a"/>
<circle cx="225.28" cy="303.01" r="1.45" fill="#104c8a"/>
<circle cx="221.65" cy="306.30" r="1.45" fill="#104c8a"/>
<circle cx="224.70" cy="305.84" r="1.45" fill="#104c8a"/>
<circle cx="222.08" cy="311.02" r="1.45" fill="#104c8a"/>
<circle cx="224.93" cy="311.26" r="1.45" fill="#104c8a"/>
<circle cx="245.40" cy="216.00" r="1.45" fill="#c8102e"/>
<circle cx="245.40" cy="258.20" r="1.45" fill="#c8102e"/>
<circle cx="242.60" cy="288.20" r="1.45" fill="#c8102e"/>
<circle cx="248.70" cy="288.20" r="1.45" fill="#c8102e"/>
<circle cx="245.40" cy="293.70" r="1.45" fill="#c8102e"/>
<circle cx="245.40" cy="299.20" r="1.45" fill="#c8102e"/>
<circle cx="245.40" cy="304.70" r="1.45" fill="#c8102e"/>
<circle cx="245.40" cy="310.80" r="1.45" fill="#c8102e"/>
<circle cx="266.80" cy="216.90" r="1.45" fill="#104c8a"/>
<circle cx="268.00" cy="228.00" r="1.45" fill="#104c8a"/>
<circle cx="266.80" cy="237.30" r="1.45" fill="#104c8a"/>
<circle cx="269.20" cy="245.00" r="1.45" fill="#104c8a"/>
<circle cx="269.20" cy="251.40" r="1.45" fill="#104c8a"/>
<circle cx="268.84" cy="260.70" r="1.45" fill="#104c8a"/>
<circle cx="265.33" cy="260.89" r="1.45" fill="#104c8a"/>
<circle cx="269.82" cy="264.27" r="1.45" fill="#104c8a"/>
<circle cx="272.91" cy="264.60" r="1.45" fill="#104c8a"/>
<circle cx="264.24" cy="268.10" r="1.45" fill="#104c8a"/>
<circle cx="269.82" cy="269.58" r="1.45" fill="#104c8a"/>
<circle cx="269.41" cy="273.11" r="1.45" fill="#104c8a"/>
<circle cx="273.59" cy="273.50" r="1.45" fill="#104c8a"/>
<circle cx="265.62" cy="274.43" r="1.45" fill="#104c8a"/>
<circle cx="262.63" cy="274.87" r="1.45" fill="#104c8a"/>
<circle cx="271.00" cy="275.56" r="1.45" fill="#104c8a"/>
<circle cx="263.44" cy="281.32" r="1.45" fill="#104c8a"/>
<circle cx="269.84" cy="282.38" r="1.45" fill="#104c8a"/>
<circle cx="267.49" cy="285.18" r="1.45" fill="#104c8a"/>
<circle cx="271.42" cy="285.59" r="1.45" fill="#104c8a"/>
<circle cx="262.84" cy="286.96" r="1.45" fill="#104c8a"/>
<circle cx="267.77" cy="288.47" r="1.45" fill="#104c8a"/>
<circle cx="271.37" cy="289.28" r="1.45" fill="#104c8a"/>
<circle cx="263.33" cy="291.34" r="1.45" fill="#104c8a"/>
<circle cx="268.51" cy="291.86" r="1.45" fill="#104c8a"/>
<circle cx="272.67" cy="292.70" r="1.45" fill="#104c8a"/>
<circle cx="265.90" cy="292.89" r="1.45" fill="#104c8a"/>
<circle cx="262.08" cy="293.78" r="1.45" fill="#104c8a"/>
<circle cx="269.42" cy="293.78" r="1.45" fill="#104c8a"/>
<circle cx="273.74" cy="295.41" r="1.45" fill="#104c8a"/>
<circle cx="271.47" cy="298.42" r="1.45" fill="#104c8a"/>
<circle cx="266.63" cy="299.19" r="1.45" fill="#104c8a"/>
<circle cx="272.52" cy="302.90" r="1.45" fill="#104c8a"/>
<circle cx="262.93" cy="304.53" r="1.45" fill="#104c8a"/>
<circle cx="269.48" cy="306.97" r="1.45" fill="#104c8a"/>
<circle cx="264.26" cy="307.30" r="1.45" fill="#104c8a"/>
<circle cx="272.60" cy="307.97" r="1.45" fill="#104c8a"/>
<circle cx="267.16" cy="309.02" r="1.45" fill="#104c8a"/>
<circle cx="262.40" cy="309.88" r="1.45" fill="#104c8a"/>
<circle cx="271.10" cy="311.13" r="1.45" fill="#104c8a"/>
<circle cx="268.08" cy="311.90" r="1.45" fill="#104c8a"/>
<circle cx="291.60" cy="201.80" r="1.45" fill="#c8102e"/>
<circle cx="289.20" cy="207.30" r="1.45" fill="#c8102e"/>
<circle cx="289.20" cy="211.90" r="1.45" fill="#c8102e"/>
<circle cx="289.20" cy="221.00" r="1.45" fill="#c8102e"/>
<circle cx="290.40" cy="227.50" r="1.45" fill="#c8102e"/>
<circle cx="291.60" cy="232.00" r="1.45" fill="#c8102e"/>
<circle cx="290.40" cy="243.00" r="1.45" fill="#c8102e"/>
<circle cx="290.40" cy="249.60" r="1.45" fill="#c8102e"/>
<circle cx="289.60" cy="260.76" r="1.45" fill="#c8102e"/>
<circle cx="291.23" cy="261.27" r="1.45" fill="#c8102e"/>
<circle cx="288.86" cy="263.59" r="1.45" fill="#c8102e"/>
<circle cx="291.85" cy="264.09" r="1.45" fill="#c8102e"/>
<circle cx="289.20" cy="266.39" r="1.45" fill="#c8102e"/>
<circle cx="290.40" cy="268.41" r="1.45" fill="#c8102e"/>
<circle cx="289.20" cy="271.08" r="1.45" fill="#c8102e"/>
<circle cx="290.40" cy="273.09" r="1.45" fill="#c8102e"/>
<circle cx="291.60" cy="275.35" r="1.45" fill="#c8102e"/>
<circle cx="290.40" cy="277.54" r="1.45" fill="#c8102e"/>
<circle cx="289.18" cy="280.12" r="1.45" fill="#c8102e"/>
<circle cx="292.08" cy="282.23" r="1.45" fill="#c8102e"/>
<circle cx="284.39" cy="286.42" r="1.45" fill="#c8102e"/>
<circle cx="286.87" cy="286.30" r="1.45" fill="#c8102e"/>
<circle cx="288.61" cy="285.74" r="1.45" fill="#c8102e"/>
<circle cx="291.52" cy="287.25" r="1.45" fill="#c8102e"/>
<circle cx="293.78" cy="285.51" r="1.45" fill="#c8102e"/>
<circle cx="296.70" cy="286.85" r="1.45" fill="#c8102e"/>
<circle cx="290.40" cy="287.68" r="1.45" fill="#c8102e"/>
<circle cx="284.23" cy="292.16" r="1.45" fill="#c8102e"/>
<circle cx="285.76" cy="290.03" r="1.45" fill="#c8102e"/>
<circle cx="287.12" cy="292.19" r="1.45" fill="#c8102e"/>
<circle cx="288.73" cy="292.36" r="1.45" fill="#c8102e"/>
<circle cx="290.10" cy="290.70" r="1.45" fill="#c8102e"/>
<circle cx="292.35" cy="290.90" r="1.45" fill="#c8102e"/>
<circle cx="293.65" cy="291.35" r="1.45" fill="#c8102e"/>
<circle cx="295.42" cy="292.43" r="1.45" fill="#c8102e"/>
<circle cx="296.70" cy="291.56" r="1.45" fill="#c8102e"/>
<circle cx="284.60" cy="293.39" r="1.45" fill="#c8102e"/>
<circle cx="286.26" cy="292.84" r="1.45" fill="#c8102e"/>
<circle cx="288.75" cy="294.27" r="1.45" fill="#c8102e"/>
<circle cx="292.00" cy="292.71" r="1.45" fill="#c8102e"/>
<circle cx="294.67" cy="293.25" r="1.45" fill="#c8102e"/>
<circle cx="296.64" cy="292.94" r="1.45" fill="#c8102e"/>
<circle cx="284.84" cy="296.83" r="1.45" fill="#c8102e"/>
<circle cx="287.63" cy="296.28" r="1.45" fill="#c8102e"/>
<circle cx="289.97" cy="296.25" r="1.45" fill="#c8102e"/>
<circle cx="292.69" cy="296.71" r="1.45" fill="#c8102e"/>
<circle cx="295.57" cy="295.83" r="1.45" fill="#c8102e"/>
<circle cx="289.07" cy="298.01" r="1.45" fill="#c8102e"/>
<circle cx="291.85" cy="299.97" r="1.45" fill="#c8102e"/>
<circle cx="284.41" cy="300.18" r="1.45" fill="#c8102e"/>
<circle cx="287.12" cy="301.97" r="1.45" fill="#c8102e"/>
<circle cx="289.41" cy="301.73" r="1.45" fill="#c8102e"/>
<circle cx="291.48" cy="300.30" r="1.45" fill="#c8102e"/>
<circle cx="294.47" cy="301.48" r="1.45" fill="#c8102e"/>
<circle cx="296.70" cy="300.82" r="1.45" fill="#c8102e"/>
<circle cx="287.19" cy="303.46" r="1.45" fill="#c8102e"/>
<circle cx="289.86" cy="302.55" r="1.45" fill="#c8102e"/>
<circle cx="292.99" cy="302.65" r="1.45" fill="#c8102e"/>
<circle cx="286.16" cy="307.08" r="1.45" fill="#c8102e"/>
<circle cx="288.89" cy="307.26" r="1.45" fill="#c8102e"/>
<circle cx="291.48" cy="306.72" r="1.45" fill="#c8102e"/>
<circle cx="294.97" cy="306.96" r="1.45" fill="#c8102e"/>
<circle cx="284.10" cy="309.77" r="1.45" fill="#c8102e"/>
<circle cx="285.92" cy="307.83" r="1.45" fill="#c8102e"/>
<circle cx="287.80" cy="308.57" r="1.45" fill="#c8102e"/>
<circle cx="290.60" cy="307.82" r="1.45" fill="#c8102e"/>
<circle cx="292.45" cy="308.30" r="1.45" fill="#c8102e"/>
<circle cx="294.17" cy="309.03" r="1.45" fill="#c8102e"/>
<circle cx="296.70" cy="308.92" r="1.45" fill="#c8102e"/>
<circle cx="288.22" cy="311.90" r="1.45" fill="#c8102e"/>
<circle cx="290.98" cy="311.51" r="1.45" fill="#c8102e"/>
<circle cx="292.94" cy="310.60" r="1.45" fill="#c8102e"/>
<circle cx="287.23" cy="314.19" r="1.45" fill="#c8102e"/>
<circle cx="290.19" cy="312.73" r="1.45" fill="#c8102e"/>
<circle cx="292.71" cy="313.03" r="1.45" fill="#c8102e"/>
<path d="M220.10,259.80 H226.50 M223.30,259.80 V266.10 M220.10,266.10 H226.50" fill="none" stroke="#1a1a1a" stroke-width="0.9"/>
<path d="M242.50,271.50 H248.90 M245.70,271.50 V293.30 M242.50,293.30 H248.90" fill="none" stroke="#1a1a1a" stroke-width="0.9"/>
<path d="M265.00,238.40 H271.40 M268.20,238.40 V267.10 M265.00,267.10 H271.40" fill="none" stroke="#1a1a1a" stroke-width="0.9"/>
<path d="M287.50,281.00 H293.90 M290.70,281.00 V286.90 M287.50,286.90 H293.90" fill="none" stroke="#1a1a1a" stroke-width="0.9"/>
<line x1="208.00" y1="188.30" x2="208.00" y2="315.50" stroke="#1a1a1a" stroke-width="1.1"/>
<line x1="207.50" y1="315.00" x2="302.50" y2="315.00" stroke="#1a1a1a" stroke-width="1.1"/>
<line x1="205.00" y1="314.80" x2="208.00" y2="314.80" stroke="#1a1a1a" stroke-width="0.9"/>
<line x1="206.00" y1="302.56" x2="208.00" y2="302.56" stroke="#1a1a1a" stroke-width="0.9"/>
<line x1="206.00" y1="290.32" x2="208.00" y2="290.32" stroke="#1a1a1a" stroke-width="0.9"/>
<line x1="206.00" y1="278.08" x2="208.00" y2="278.08" stroke="#1a1a1a" stroke-width="0.9"/>
<line x1="206.00" y1="265.84" x2="208.00" y2="265.84" stroke="#1a1a1a" stroke-width="0.9"/>
<line x1="205.00" y1="253.60" x2="208.00" y2="253.60" stroke="#1a1a1a" stroke-width="0.9"/>
<line x1="206.00" y1="241.36" x2="208.00" y2="241.36" stroke="#1a1a1a" stroke-width="0.9"/>
<line x1="206.00" y1="229.12" x2="208.00" y2="229.12" stroke="#1a1a1a" stroke-width="0.9"/>
<line x1="206.00" y1="216.88" x2="208.00" y2="216.88" stroke="#1a1a1a" stroke-width="0.9"/>
<line x1="206.00" y1="204.64" x2="208.00" y2="204.64" stroke="#1a1a1a" stroke-width="0.9"/>
<line x1="205.00" y1="192.40" x2="208.00" y2="192.40" stroke="#1a1a1a" stroke-width="0.9"/>
<line x1="206.00" y1="223.00" x2="208.00" y2="223.00" stroke="#1a1a1a" stroke-width="0.9"/>
<line x1="206.00" y1="296.40" x2="208.00" y2="296.40" stroke="#1a1a1a" stroke-width="0.9"/>
<text x="202.80" y="195.10" font-size="8.2" text-anchor="end" font-weight="normal" fill="#222" textLength="7.7" lengthAdjust="spacingAndGlyphs">10</text>
<text x="202.80" y="256.40" font-size="8.2" text-anchor="end" font-weight="normal" fill="#222" textLength="3.9" lengthAdjust="spacingAndGlyphs">5</text>
<text x="202.80" y="317.80" font-size="8.2" text-anchor="end" font-weight="normal" fill="#222" textLength="3.9" lengthAdjust="spacingAndGlyphs">0</text>
<text x="0" y="0" font-size="9.5" text-anchor="middle" fill="#222" transform="translate(192.40,251.20) rotate(-90)" textLength="37.7" lengthAdjust="spacingAndGlyphs">ANC (K/ml)</text>
<path d="M223.00,193.90 V186.30 H245.50 V205.70" fill="none" stroke="#2a2a2a" stroke-width="1.0"/>
<polygon points="234.65,179.30 235.24,180.58 236.65,180.75 235.61,181.71 235.88,183.10 234.65,182.41 233.42,183.10 233.69,181.71 232.65,180.75 234.06,180.58" fill="#1a1a1a"/>
<path d="M267.50,191.90 V186.30 H290.80 V191.90" fill="none" stroke="#2a2a2a" stroke-width="1.0"/>
<polygon points="279.55,179.30 280.14,180.58 281.55,180.75 280.51,181.71 280.78,183.10 279.55,182.41 278.32,183.10 278.59,181.71 277.55,180.75 278.96,180.58" fill="#1a1a1a"/>
<text x="233.30" y="325.40" font-size="8.1" text-anchor="middle" font-weight="normal" fill="#222">Routine</text>
<text x="233.30" y="334.50" font-size="8.1" text-anchor="middle" font-weight="normal" fill="#222">investigation</text>
<text x="281.80" y="325.40" font-size="8.1" text-anchor="middle" font-weight="normal" fill="#222">HLH</text>
<text x="281.80" y="334.50" font-size="8.1" text-anchor="middle" font-weight="normal" fill="#222">suspected</text>
<rect x="305.50" y="232.50" width="30.00" height="23.80" fill="#c6d5e2"/>
<text x="308.40" y="241.50" font-size="7.8" text-anchor="start" font-weight="normal" fill="#222" textLength="23.63" lengthAdjust="spacingAndGlyphs">Normal</text>
<text x="308.40" y="250.10" font-size="7.8" text-anchor="start" font-weight="normal" fill="#222" textLength="18.75" lengthAdjust="spacingAndGlyphs">range</text>
<rect x="305.50" y="280.00" width="37.00" height="31.30" fill="#c6d5e2"/>
<text x="308.40" y="289.00" font-size="7.8" text-anchor="start" font-weight="normal" fill="#222" textLength="33.42" lengthAdjust="spacingAndGlyphs">HLH-2004</text>
<text x="308.40" y="297.60" font-size="7.8" text-anchor="start" font-weight="normal" fill="#222" textLength="33.02" lengthAdjust="spacingAndGlyphs">diagnostic</text>
<text x="308.40" y="306.20" font-size="7.8" text-anchor="start" font-weight="normal" fill="#222" textLength="17.53" lengthAdjust="spacingAndGlyphs">value</text>
<rect x="379.50" y="209.60" width="91.00" height="17.90" fill="#dadada"/>
<line x1="379.50" y1="209.60" x2="470.50" y2="209.60" stroke="#4a4a4a" stroke-width="0.85" stroke-dasharray="1.3,1.0"/>
<line x1="379.50" y1="227.50" x2="470.50" y2="227.50" stroke="#4a4a4a" stroke-width="0.85" stroke-dasharray="1.3,1.0"/>
<line x1="379.50" y1="234.00" x2="470.50" y2="234.00" stroke="#4a4a4a" stroke-width="0.85" stroke-dasharray="1.3,1.0"/>
<rect x="386.40" y="217.60" width="14.30" height="97.40" fill="#86a5c4"/>
<rect x="408.30" y="239.00" width="14.20" height="76.00" fill="#df8796"/>
<rect x="430.00" y="231.10" width="14.30" height="83.90" fill="#86a5c4"/>
<rect x="451.80" y="234.50" width="14.30" height="80.50" fill="#df8796"/>
<circle cx="390.58" cy="203.61" r="1.45" fill="#104c8a"/>
<circle cx="393.20" cy="204.80" r="1.45" fill="#104c8a"/>
<circle cx="396.80" cy="203.97" r="1.45" fill="#104c8a"/>
<circle cx="393.60" cy="207.73" r="1.45" fill="#104c8a"/>
<circle cx="390.96" cy="210.73" r="1.45" fill="#104c8a"/>
<circle cx="393.46" cy="211.18" r="1.45" fill="#104c8a"/>
<circle cx="396.58" cy="211.31" r="1.45" fill="#104c8a"/>
<circle cx="387.88" cy="213.69" r="1.45" fill="#104c8a"/>
<circle cx="388.88" cy="213.21" r="1.45" fill="#104c8a"/>
<circle cx="390.61" cy="213.41" r="1.45" fill="#104c8a"/>
<circle cx="392.93" cy="213.30" r="1.45" fill="#104c8a"/>
<circle cx="394.60" cy="214.75" r="1.45" fill="#104c8a"/>
<circle cx="395.84" cy="212.75" r="1.45" fill="#104c8a"/>
<circle cx="398.21" cy="214.01" r="1.45" fill="#104c8a"/>
<circle cx="399.82" cy="212.72" r="1.45" fill="#104c8a"/>
<circle cx="392.66" cy="216.63" r="1.45" fill="#104c8a"/>
<circle cx="394.61" cy="216.99" r="1.45" fill="#104c8a"/>
<circle cx="392.53" cy="218.44" r="1.45" fill="#104c8a"/>
<circle cx="394.50" cy="219.67" r="1.45" fill="#104c8a"/>
<circle cx="392.40" cy="222.17" r="1.45" fill="#104c8a"/>
<circle cx="387.30" cy="223.64" r="1.45" fill="#104c8a"/>
<circle cx="388.31" cy="223.38" r="1.45" fill="#104c8a"/>
<circle cx="390.54" cy="223.66" r="1.45" fill="#104c8a"/>
<circle cx="391.95" cy="222.68" r="1.45" fill="#104c8a"/>
<circle cx="393.96" cy="224.55" r="1.45" fill="#104c8a"/>
<circle cx="394.64" cy="224.40" r="1.45" fill="#104c8a"/>
<circle cx="396.63" cy="224.69" r="1.45" fill="#104c8a"/>
<circle cx="397.85" cy="224.74" r="1.45" fill="#104c8a"/>
<circle cx="399.41" cy="222.71" r="1.45" fill="#104c8a"/>
<circle cx="387.30" cy="225.18" r="1.45" fill="#104c8a"/>
<circle cx="388.59" cy="225.91" r="1.45" fill="#104c8a"/>
<circle cx="391.43" cy="227.25" r="1.45" fill="#104c8a"/>
<circle cx="392.58" cy="226.10" r="1.45" fill="#104c8a"/>
<circle cx="394.54" cy="225.98" r="1.45" fill="#104c8a"/>
<circle cx="396.04" cy="227.19" r="1.45" fill="#104c8a"/>
<circle cx="397.53" cy="226.11" r="1.45" fill="#104c8a"/>
<circle cx="399.32" cy="225.15" r="1.45" fill="#104c8a"/>
<circle cx="388.57" cy="228.50" r="1.45" fill="#104c8a"/>
<circle cx="391.16" cy="229.53" r="1.45" fill="#104c8a"/>
<circle cx="393.86" cy="228.46" r="1.45" fill="#104c8a"/>
<circle cx="396.52" cy="228.62" r="1.45" fill="#104c8a"/>
<circle cx="399.42" cy="229.07" r="1.45" fill="#104c8a"/>
<circle cx="392.83" cy="231.56" r="1.45" fill="#104c8a"/>
<circle cx="395.20" cy="230.09" r="1.45" fill="#104c8a"/>
<circle cx="394.80" cy="236.84" r="1.45" fill="#104c8a"/>
<circle cx="391.03" cy="239.27" r="1.45" fill="#104c8a"/>
<circle cx="393.50" cy="239.19" r="1.45" fill="#104c8a"/>
<circle cx="396.72" cy="239.81" r="1.45" fill="#104c8a"/>
<circle cx="392.40" cy="240.88" r="1.45" fill="#104c8a"/>
<circle cx="393.60" cy="254.20" r="1.45" fill="#104c8a"/>
<circle cx="393.60" cy="258.20" r="1.45" fill="#104c8a"/>
<circle cx="392.40" cy="271.60" r="1.45" fill="#104c8a"/>
<circle cx="393.60" cy="273.00" r="1.45" fill="#104c8a"/>
<circle cx="415.50" cy="222.90" r="1.45" fill="#c8102e"/>
<circle cx="415.50" cy="226.60" r="1.45" fill="#c8102e"/>
<circle cx="415.50" cy="231.60" r="1.45" fill="#c8102e"/>
<circle cx="415.50" cy="241.30" r="1.45" fill="#c8102e"/>
<circle cx="415.50" cy="245.00" r="1.45" fill="#c8102e"/>
<circle cx="415.50" cy="271.10" r="1.45" fill="#c8102e"/>
<circle cx="415.50" cy="280.80" r="1.45" fill="#c8102e"/>
<circle cx="415.50" cy="303.30" r="1.45" fill="#c8102e"/>
<circle cx="435.39" cy="205.50" r="1.45" fill="#104c8a"/>
<circle cx="438.67" cy="205.50" r="1.45" fill="#104c8a"/>
<circle cx="438.20" cy="210.00" r="1.45" fill="#104c8a"/>
<circle cx="437.00" cy="214.70" r="1.45" fill="#104c8a"/>
<circle cx="435.86" cy="218.64" r="1.45" fill="#104c8a"/>
<circle cx="438.70" cy="218.97" r="1.45" fill="#104c8a"/>
<circle cx="435.77" cy="220.82" r="1.45" fill="#104c8a"/>
<circle cx="438.48" cy="221.38" r="1.45" fill="#104c8a"/>
<circle cx="437.00" cy="224.82" r="1.45" fill="#104c8a"/>
<circle cx="431.75" cy="225.87" r="1.45" fill="#104c8a"/>
<circle cx="434.84" cy="225.90" r="1.45" fill="#104c8a"/>
<circle cx="437.46" cy="226.23" r="1.45" fill="#104c8a"/>
<circle cx="440.24" cy="226.39" r="1.45" fill="#104c8a"/>
<circle cx="442.27" cy="227.02" r="1.45" fill="#104c8a"/>
<circle cx="437.00" cy="227.87" r="1.45" fill="#104c8a"/>
<circle cx="432.80" cy="230.48" r="1.45" fill="#104c8a"/>
<circle cx="435.16" cy="231.52" r="1.45" fill="#104c8a"/>
<circle cx="438.36" cy="232.18" r="1.45" fill="#104c8a"/>
<circle cx="441.05" cy="230.05" r="1.45" fill="#104c8a"/>
<circle cx="437.00" cy="233.22" r="1.45" fill="#104c8a"/>
<circle cx="435.77" cy="239.13" r="1.45" fill="#104c8a"/>
<circle cx="438.36" cy="239.52" r="1.45" fill="#104c8a"/>
<circle cx="435.80" cy="240.60" r="1.45" fill="#104c8a"/>
<circle cx="438.20" cy="246.87" r="1.45" fill="#104c8a"/>
<circle cx="435.11" cy="249.40" r="1.45" fill="#104c8a"/>
<circle cx="437.82" cy="249.36" r="1.45" fill="#104c8a"/>
<circle cx="432.68" cy="253.64" r="1.45" fill="#104c8a"/>
<circle cx="435.14" cy="253.46" r="1.45" fill="#104c8a"/>
<circle cx="438.50" cy="253.95" r="1.45" fill="#104c8a"/>
<circle cx="441.64" cy="253.12" r="1.45" fill="#104c8a"/>
<circle cx="435.16" cy="256.29" r="1.45" fill="#104c8a"/>
<circle cx="438.50" cy="255.60" r="1.45" fill="#104c8a"/>
<circle cx="438.20" cy="261.77" r="1.45" fill="#104c8a"/>
<circle cx="433.90" cy="263.27" r="1.45" fill="#104c8a"/>
<circle cx="437.42" cy="264.23" r="1.45" fill="#104c8a"/>
<circle cx="440.04" cy="263.86" r="1.45" fill="#104c8a"/>
<circle cx="436.10" cy="267.08" r="1.45" fill="#104c8a"/>
<circle cx="438.07" cy="265.42" r="1.45" fill="#104c8a"/>
<circle cx="437.00" cy="273.73" r="1.45" fill="#104c8a"/>
<circle cx="437.00" cy="279.03" r="1.45" fill="#104c8a"/>
<circle cx="435.86" cy="282.01" r="1.45" fill="#104c8a"/>
<circle cx="437.83" cy="280.07" r="1.45" fill="#104c8a"/>
<circle cx="437.00" cy="282.86" r="1.45" fill="#104c8a"/>
<circle cx="437.00" cy="302.90" r="1.45" fill="#104c8a"/>
<circle cx="437.00" cy="314.80" r="1.45" fill="#104c8a"/>
<circle cx="458.70" cy="204.50" r="1.45" fill="#c8102e"/>
<circle cx="459.90" cy="216.50" r="1.45" fill="#c8102e"/>
<circle cx="457.50" cy="220.00" r="1.45" fill="#c8102e"/>
<circle cx="452.40" cy="226.47" r="1.45" fill="#c8102e"/>
<circle cx="453.91" cy="226.72" r="1.45" fill="#c8102e"/>
<circle cx="456.19" cy="225.19" r="1.45" fill="#c8102e"/>
<circle cx="458.72" cy="226.08" r="1.45" fill="#c8102e"/>
<circle cx="461.39" cy="226.97" r="1.45" fill="#c8102e"/>
<circle cx="463.13" cy="226.34" r="1.45" fill="#c8102e"/>
<circle cx="464.85" cy="225.44" r="1.45" fill="#c8102e"/>
<circle cx="452.81" cy="229.94" r="1.45" fill="#c8102e"/>
<circle cx="455.06" cy="228.04" r="1.45" fill="#c8102e"/>
<circle cx="456.97" cy="227.89" r="1.45" fill="#c8102e"/>
<circle cx="459.44" cy="229.74" r="1.45" fill="#c8102e"/>
<circle cx="461.99" cy="228.97" r="1.45" fill="#c8102e"/>
<circle cx="465.00" cy="229.55" r="1.45" fill="#c8102e"/>
<circle cx="457.88" cy="231.74" r="1.45" fill="#c8102e"/>
<circle cx="460.44" cy="231.71" r="1.45" fill="#c8102e"/>
<circle cx="454.51" cy="234.73" r="1.45" fill="#c8102e"/>
<circle cx="457.32" cy="233.12" r="1.45" fill="#c8102e"/>
<circle cx="460.55" cy="232.59" r="1.45" fill="#c8102e"/>
<circle cx="462.38" cy="234.64" r="1.45" fill="#c8102e"/>
<circle cx="456.33" cy="236.19" r="1.45" fill="#c8102e"/>
<circle cx="458.15" cy="235.09" r="1.45" fill="#c8102e"/>
<circle cx="461.95" cy="235.74" r="1.45" fill="#c8102e"/>
<circle cx="457.60" cy="239.18" r="1.45" fill="#c8102e"/>
<circle cx="460.34" cy="239.29" r="1.45" fill="#c8102e"/>
<circle cx="455.84" cy="240.05" r="1.45" fill="#c8102e"/>
<circle cx="458.67" cy="241.49" r="1.45" fill="#c8102e"/>
<circle cx="461.34" cy="241.82" r="1.45" fill="#c8102e"/>
<circle cx="454.60" cy="244.04" r="1.45" fill="#c8102e"/>
<circle cx="457.70" cy="244.89" r="1.45" fill="#c8102e"/>
<circle cx="460.27" cy="242.66" r="1.45" fill="#c8102e"/>
<circle cx="462.57" cy="242.82" r="1.45" fill="#c8102e"/>
<circle cx="457.08" cy="247.45" r="1.45" fill="#c8102e"/>
<circle cx="459.46" cy="245.85" r="1.45" fill="#c8102e"/>
<circle cx="456.59" cy="248.76" r="1.45" fill="#c8102e"/>
<circle cx="458.53" cy="248.70" r="1.45" fill="#c8102e"/>
<circle cx="461.04" cy="248.64" r="1.45" fill="#c8102e"/>
<circle cx="455.81" cy="252.38" r="1.45" fill="#c8102e"/>
<circle cx="459.11" cy="252.02" r="1.45" fill="#c8102e"/>
<circle cx="461.53" cy="250.82" r="1.45" fill="#c8102e"/>
<circle cx="452.85" cy="253.62" r="1.45" fill="#c8102e"/>
<circle cx="455.62" cy="253.32" r="1.45" fill="#c8102e"/>
<circle cx="458.87" cy="254.95" r="1.45" fill="#c8102e"/>
<circle cx="461.80" cy="254.51" r="1.45" fill="#c8102e"/>
<circle cx="464.24" cy="252.61" r="1.45" fill="#c8102e"/>
<circle cx="454.38" cy="255.38" r="1.45" fill="#c8102e"/>
<circle cx="456.76" cy="255.29" r="1.45" fill="#c8102e"/>
<circle cx="459.78" cy="257.30" r="1.45" fill="#c8102e"/>
<circle cx="462.98" cy="256.27" r="1.45" fill="#c8102e"/>
<circle cx="457.78" cy="259.82" r="1.45" fill="#c8102e"/>
<circle cx="460.62" cy="258.03" r="1.45" fill="#c8102e"/>
<circle cx="453.87" cy="261.91" r="1.45" fill="#c8102e"/>
<circle cx="456.60" cy="261.82" r="1.45" fill="#c8102e"/>
<circle cx="459.00" cy="260.94" r="1.45" fill="#c8102e"/>
<circle cx="461.75" cy="261.42" r="1.45" fill="#c8102e"/>
<circle cx="463.90" cy="260.82" r="1.45" fill="#c8102e"/>
<circle cx="458.70" cy="262.82" r="1.45" fill="#c8102e"/>
<circle cx="456.83" cy="265.23" r="1.45" fill="#c8102e"/>
<circle cx="460.04" cy="267.09" r="1.45" fill="#c8102e"/>
<circle cx="457.23" cy="267.56" r="1.45" fill="#c8102e"/>
<circle cx="460.11" cy="268.44" r="1.45" fill="#c8102e"/>
<circle cx="455.78" cy="279.32" r="1.45" fill="#c8102e"/>
<circle cx="458.26" cy="278.41" r="1.45" fill="#c8102e"/>
<circle cx="460.96" cy="278.74" r="1.45" fill="#c8102e"/>
<circle cx="457.50" cy="281.68" r="1.45" fill="#c8102e"/>
<circle cx="457.50" cy="291.00" r="1.45" fill="#c8102e"/>
<circle cx="458.70" cy="302.90" r="1.45" fill="#c8102e"/>
<path d="M390.30,214.50 H396.70 M393.50,214.50 V221.00 M390.30,221.00 H396.70" fill="none" stroke="#1a1a1a" stroke-width="0.9"/>
<path d="M412.20,233.90 H418.60 M415.40,233.90 V245.70 M412.20,245.70 H418.60" fill="none" stroke="#1a1a1a" stroke-width="0.9"/>
<path d="M434.00,226.00 H440.40 M437.20,226.00 V236.00 M434.00,236.00 H440.40" fill="none" stroke="#1a1a1a" stroke-width="0.9"/>
<path d="M455.80,231.50 H462.20 M459.00,231.50 V237.50 M455.80,237.50 H462.20" fill="none" stroke="#1a1a1a" stroke-width="0.9"/>
<line x1="379.50" y1="197.00" x2="379.50" y2="315.50" stroke="#1a1a1a" stroke-width="1.1"/>
<line x1="379.00" y1="315.00" x2="470.50" y2="315.00" stroke="#1a1a1a" stroke-width="1.1"/>
<line x1="376.30" y1="209.60" x2="379.50" y2="209.60" stroke="#1a1a1a" stroke-width="0.9"/>
<line x1="376.30" y1="227.30" x2="379.50" y2="227.30" stroke="#1a1a1a" stroke-width="0.9"/>
<line x1="376.30" y1="234.10" x2="379.50" y2="234.10" stroke="#1a1a1a" stroke-width="0.9"/>
<line x1="376.30" y1="274.20" x2="379.50" y2="274.20" stroke="#1a1a1a" stroke-width="0.9"/>
<line x1="376.30" y1="315.00" x2="379.50" y2="315.00" stroke="#1a1a1a" stroke-width="0.9"/>
<text x="373.80" y="237.10" font-size="8.2" text-anchor="end" font-weight="normal" fill="#222" textLength="11.8" lengthAdjust="spacingAndGlyphs">100</text>
<text x="373.80" y="277.30" font-size="8.2" text-anchor="end" font-weight="normal" fill="#222" textLength="7.7" lengthAdjust="spacingAndGlyphs">10</text>
<text x="373.80" y="317.40" font-size="8.2" text-anchor="end" font-weight="normal" fill="#222" textLength="3.9" lengthAdjust="spacingAndGlyphs">1</text>
<text x="0" y="0" font-size="9.5" text-anchor="middle" fill="#222" transform="translate(358.30,256.00) rotate(-90)" textLength="33.6" lengthAdjust="spacingAndGlyphs">PLT (K/ml)</text>
<path d="M393.30,191.90 V186.30 H415.30 V217.60" fill="none" stroke="#2a2a2a" stroke-width="1.0"/>
<polygon points="400.60,179.30 401.19,180.58 402.60,180.75 401.56,181.71 401.83,183.10 400.60,182.41 399.37,183.10 399.64,181.71 398.60,180.75 400.01,180.58" fill="#1a1a1a"/>
<polygon points="404.70,179.30 405.29,180.58 406.70,180.75 405.66,181.71 405.93,183.10 404.70,182.41 403.47,183.10 403.74,181.71 402.70,180.75 404.11,180.58" fill="#1a1a1a"/>
<polygon points="408.80,179.30 409.39,180.58 410.80,180.75 409.76,181.71 410.03,183.10 408.80,182.41 407.57,183.10 407.84,181.71 406.80,180.75 408.21,180.58" fill="#1a1a1a"/>
<path d="M436.30,196.80 V186.30 H458.80 V196.80" fill="none" stroke="#2a2a2a" stroke-width="1.0"/>
<text x="447.55" y="183.60" font-size="9.2" text-anchor="middle" font-weight="normal" fill="#2a2a2a" textLength="8.6" lengthAdjust="spacingAndGlyphs">ns</text>
<text x="402.60" y="325.40" font-size="8.1" text-anchor="middle" font-weight="normal" fill="#222">Routine</text>
<text x="402.60" y="334.50" font-size="8.1" text-anchor="middle" font-weight="normal" fill="#222">investigation</text>
<text x="448.10" y="325.40" font-size="8.1" text-anchor="middle" font-weight="normal" fill="#222">HLH</text>
<text x="448.10" y="334.50" font-size="8.1" text-anchor="middle" font-weight="normal" fill="#222">suspected</text>
<rect x="473.30" y="208.30" width="31.00" height="20.50" fill="#c6d5e2"/>
<text x="476.20" y="217.30" font-size="7.8" text-anchor="start" font-weight="normal" fill="#222" textLength="23.63" lengthAdjust="spacingAndGlyphs">Normal</text>
<text x="476.20" y="225.90" font-size="7.8" text-anchor="start" font-weight="normal" fill="#222" textLength="18.75" lengthAdjust="spacingAndGlyphs">range</text>
<rect x="473.30" y="236.30" width="39.20" height="30.70" fill="#c6d5e2"/>
<text x="476.20" y="245.30" font-size="7.8" text-anchor="start" font-weight="normal" fill="#222" textLength="33.42" lengthAdjust="spacingAndGlyphs">HLH-2004</text>
<text x="476.20" y="253.90" font-size="7.8" text-anchor="start" font-weight="normal" fill="#222" textLength="33.02" lengthAdjust="spacingAndGlyphs">diagnostic</text>
<text x="476.20" y="262.50" font-size="7.8" text-anchor="start" font-weight="normal" fill="#222" textLength="17.53" lengthAdjust="spacingAndGlyphs">value</text>
<rect x="40.20" y="435.40" width="95.60" height="29.90" fill="#dadada"/>
<line x1="40.20" y1="435.40" x2="135.80" y2="435.40" stroke="#4a4a4a" stroke-width="0.85" stroke-dasharray="1.3,1.0"/>
<line x1="40.20" y1="465.30" x2="135.80" y2="465.30" stroke="#4a4a4a" stroke-width="0.85" stroke-dasharray="1.3,1.0"/>
<line x1="40.20" y1="472.90" x2="135.80" y2="472.90" stroke="#4a4a4a" stroke-width="0.85" stroke-dasharray="1.3,1.0"/>
<rect x="48.20" y="434.00" width="14.70" height="61.00" fill="#86a5c4"/>
<rect x="71.20" y="445.90" width="14.80" height="49.10" fill="#df8796"/>
<rect x="94.30" y="441.10" width="15.10" height="53.90" fill="#86a5c4"/>
<rect x="117.40" y="431.90" width="15.20" height="63.10" fill="#df8796"/>
<circle cx="54.56" cy="398.99" r="1.45" fill="#104c8a"/>
<circle cx="56.91" cy="398.52" r="1.45" fill="#104c8a"/>
<circle cx="54.54" cy="402.28" r="1.45" fill="#104c8a"/>
<circle cx="56.53" cy="400.46" r="1.45" fill="#104c8a"/>
<circle cx="56.70" cy="412.24" r="1.45" fill="#104c8a"/>
<circle cx="55.50" cy="413.85" r="1.45" fill="#104c8a"/>
<circle cx="54.21" cy="415.36" r="1.45" fill="#104c8a"/>
<circle cx="56.81" cy="417.10" r="1.45" fill="#104c8a"/>
<circle cx="54.25" cy="418.99" r="1.45" fill="#104c8a"/>
<circle cx="56.68" cy="419.39" r="1.45" fill="#104c8a"/>
<circle cx="54.03" cy="426.27" r="1.45" fill="#104c8a"/>
<circle cx="57.43" cy="426.61" r="1.45" fill="#104c8a"/>
<circle cx="52.85" cy="428.01" r="1.45" fill="#104c8a"/>
<circle cx="54.94" cy="428.34" r="1.45" fill="#104c8a"/>
<circle cx="58.41" cy="427.72" r="1.45" fill="#104c8a"/>
<circle cx="49.94" cy="430.06" r="1.45" fill="#104c8a"/>
<circle cx="53.14" cy="432.07" r="1.45" fill="#104c8a"/>
<circle cx="56.01" cy="431.70" r="1.45" fill="#104c8a"/>
<circle cx="58.51" cy="431.17" r="1.45" fill="#104c8a"/>
<circle cx="60.53" cy="431.08" r="1.45" fill="#104c8a"/>
<circle cx="54.08" cy="434.82" r="1.45" fill="#104c8a"/>
<circle cx="57.25" cy="434.65" r="1.45" fill="#104c8a"/>
<circle cx="50.49" cy="436.67" r="1.45" fill="#104c8a"/>
<circle cx="53.19" cy="436.70" r="1.45" fill="#104c8a"/>
<circle cx="55.88" cy="437.39" r="1.45" fill="#104c8a"/>
<circle cx="58.31" cy="436.59" r="1.45" fill="#104c8a"/>
<circle cx="60.51" cy="437.15" r="1.45" fill="#104c8a"/>
<circle cx="55.50" cy="439.15" r="1.45" fill="#104c8a"/>
<circle cx="56.70" cy="442.23" r="1.45" fill="#104c8a"/>
<circle cx="51.97" cy="444.70" r="1.45" fill="#104c8a"/>
<circle cx="54.64" cy="443.98" r="1.45" fill="#104c8a"/>
<circle cx="57.42" cy="444.58" r="1.45" fill="#104c8a"/>
<circle cx="59.39" cy="442.51" r="1.45" fill="#104c8a"/>
<circle cx="51.56" cy="445.50" r="1.45" fill="#104c8a"/>
<circle cx="54.74" cy="445.07" r="1.45" fill="#104c8a"/>
<circle cx="56.84" cy="445.68" r="1.45" fill="#104c8a"/>
<circle cx="59.57" cy="445.92" r="1.45" fill="#104c8a"/>
<circle cx="53.38" cy="449.44" r="1.45" fill="#104c8a"/>
<circle cx="55.90" cy="447.81" r="1.45" fill="#104c8a"/>
<circle cx="58.54" cy="448.13" r="1.45" fill="#104c8a"/>
<circle cx="52.83" cy="451.27" r="1.45" fill="#104c8a"/>
<circle cx="55.88" cy="450.17" r="1.45" fill="#104c8a"/>
<circle cx="58.71" cy="451.03" r="1.45" fill="#104c8a"/>
<circle cx="52.59" cy="454.70" r="1.45" fill="#104c8a"/>
<circle cx="55.53" cy="454.62" r="1.45" fill="#104c8a"/>
<circle cx="58.66" cy="454.67" r="1.45" fill="#104c8a"/>
<circle cx="49.20" cy="455.40" r="1.45" fill="#104c8a"/>
<circle cx="51.57" cy="456.99" r="1.45" fill="#104c8a"/>
<circle cx="52.26" cy="456.64" r="1.45" fill="#104c8a"/>
<circle cx="54.56" cy="456.43" r="1.45" fill="#104c8a"/>
<circle cx="56.44" cy="455.41" r="1.45" fill="#104c8a"/>
<circle cx="58.31" cy="456.29" r="1.45" fill="#104c8a"/>
<circle cx="60.58" cy="456.59" r="1.45" fill="#104c8a"/>
<circle cx="61.80" cy="456.76" r="1.45" fill="#104c8a"/>
<circle cx="51.79" cy="459.05" r="1.45" fill="#104c8a"/>
<circle cx="54.21" cy="459.90" r="1.45" fill="#104c8a"/>
<circle cx="57.31" cy="459.12" r="1.45" fill="#104c8a"/>
<circle cx="60.01" cy="459.73" r="1.45" fill="#104c8a"/>
<circle cx="50.55" cy="461.58" r="1.45" fill="#104c8a"/>
<circle cx="53.08" cy="461.57" r="1.45" fill="#104c8a"/>
<circle cx="55.70" cy="461.90" r="1.45" fill="#104c8a"/>
<circle cx="57.79" cy="460.78" r="1.45" fill="#104c8a"/>
<circle cx="60.81" cy="461.45" r="1.45" fill="#104c8a"/>
<circle cx="55.50" cy="467.80" r="1.45" fill="#104c8a"/>
<circle cx="55.50" cy="479.30" r="1.45" fill="#104c8a"/>
<circle cx="55.50" cy="483.00" r="1.45" fill="#104c8a"/>
<circle cx="54.30" cy="487.00" r="1.45" fill="#104c8a"/>
<circle cx="78.60" cy="368.70" r="1.45" fill="#c8102e"/>
<circle cx="78.60" cy="420.70" r="1.45" fill="#c8102e"/>
<circle cx="75.70" cy="448.20" r="1.45" fill="#c8102e"/>
<circle cx="82.00" cy="448.20" r="1.45" fill="#c8102e"/>
<circle cx="75.70" cy="455.80" r="1.45" fill="#c8102e"/>
<circle cx="82.00" cy="455.80" r="1.45" fill="#c8102e"/>
<circle cx="82.00" cy="480.30" r="1.45" fill="#c8102e"/>
<circle cx="75.70" cy="482.80" r="1.45" fill="#c8102e"/>
<circle cx="100.70" cy="371.60" r="1.45" fill="#104c8a"/>
<circle cx="101.90" cy="378.30" r="1.45" fill="#104c8a"/>
<circle cx="103.10" cy="381.20" r="1.45" fill="#104c8a"/>
<circle cx="103.10" cy="390.99" r="1.45" fill="#104c8a"/>
<circle cx="100.83" cy="393.18" r="1.45" fill="#104c8a"/>
<circle cx="103.52" cy="394.96" r="1.45" fill="#104c8a"/>
<circle cx="100.70" cy="397.14" r="1.45" fill="#104c8a"/>
<circle cx="101.90" cy="399.31" r="1.45" fill="#104c8a"/>
<circle cx="100.70" cy="401.10" r="1.45" fill="#104c8a"/>
<circle cx="101.90" cy="403.26" r="1.45" fill="#104c8a"/>
<circle cx="100.85" cy="405.29" r="1.45" fill="#104c8a"/>
<circle cx="102.96" cy="407.40" r="1.45" fill="#104c8a"/>
<circle cx="98.80" cy="413.49" r="1.45" fill="#104c8a"/>
<circle cx="101.73" cy="412.99" r="1.45" fill="#104c8a"/>
<circle cx="104.53" cy="414.44" r="1.45" fill="#104c8a"/>
<circle cx="98.77" cy="416.57" r="1.45" fill="#104c8a"/>
<circle cx="101.91" cy="416.57" r="1.45" fill="#104c8a"/>
<circle cx="104.78" cy="415.73" r="1.45" fill="#104c8a"/>
<circle cx="98.43" cy="418.18" r="1.45" fill="#104c8a"/>
<circle cx="100.02" cy="418.67" r="1.45" fill="#104c8a"/>
<circle cx="102.98" cy="419.51" r="1.45" fill="#104c8a"/>
<circle cx="105.46" cy="419.05" r="1.45" fill="#104c8a"/>
<circle cx="100.41" cy="420.59" r="1.45" fill="#104c8a"/>
<circle cx="103.84" cy="421.73" r="1.45" fill="#104c8a"/>
<circle cx="99.51" cy="423.86" r="1.45" fill="#104c8a"/>
<circle cx="101.84" cy="423.14" r="1.45" fill="#104c8a"/>
<circle cx="104.99" cy="423.90" r="1.45" fill="#104c8a"/>
<circle cx="100.70" cy="425.70" r="1.45" fill="#104c8a"/>
<circle cx="100.66" cy="429.47" r="1.45" fill="#104c8a"/>
<circle cx="103.66" cy="429.83" r="1.45" fill="#104c8a"/>
<circle cx="98.15" cy="432.49" r="1.45" fill="#104c8a"/>
<circle cx="100.06" cy="432.16" r="1.45" fill="#104c8a"/>
<circle cx="103.76" cy="430.29" r="1.45" fill="#104c8a"/>
<circle cx="106.28" cy="432.05" r="1.45" fill="#104c8a"/>
<circle cx="101.90" cy="432.98" r="1.45" fill="#104c8a"/>
<circle cx="100.61" cy="438.51" r="1.45" fill="#104c8a"/>
<circle cx="102.96" cy="438.92" r="1.45" fill="#104c8a"/>
<circle cx="100.41" cy="441.38" r="1.45" fill="#104c8a"/>
<circle cx="102.82" cy="440.48" r="1.45" fill="#104c8a"/>
<circle cx="100.19" cy="444.81" r="1.45" fill="#104c8a"/>
<circle cx="103.29" cy="442.56" r="1.45" fill="#104c8a"/>
<circle cx="96.53" cy="447.31" r="1.45" fill="#104c8a"/>
<circle cx="99.72" cy="445.16" r="1.45" fill="#104c8a"/>
<circle cx="101.51" cy="446.98" r="1.45" fill="#104c8a"/>
<circle cx="104.24" cy="445.50" r="1.45" fill="#104c8a"/>
<circle cx="107.06" cy="445.62" r="1.45" fill="#104c8a"/>
<circle cx="95.60" cy="449.53" r="1.45" fill="#104c8a"/>
<circle cx="97.13" cy="449.81" r="1.45" fill="#104c8a"/>
<circle cx="98.44" cy="449.53" r="1.45" fill="#104c8a"/>
<circle cx="100.10" cy="448.23" r="1.45" fill="#104c8a"/>
<circle cx="101.53" cy="447.80" r="1.45" fill="#104c8a"/>
<circle cx="103.96" cy="449.93" r="1.45" fill="#104c8a"/>
<circle cx="105.20" cy="449.49" r="1.45" fill="#104c8a"/>
<circle cx="106.61" cy="448.16" r="1.45" fill="#104c8a"/>
<circle cx="107.87" cy="449.63" r="1.45" fill="#104c8a"/>
<circle cx="96.24" cy="454.83" r="1.45" fill="#104c8a"/>
<circle cx="99.13" cy="454.08" r="1.45" fill="#104c8a"/>
<circle cx="102.20" cy="452.90" r="1.45" fill="#104c8a"/>
<circle cx="105.07" cy="453.81" r="1.45" fill="#104c8a"/>
<circle cx="107.84" cy="453.31" r="1.45" fill="#104c8a"/>
<circle cx="99.68" cy="456.93" r="1.45" fill="#104c8a"/>
<circle cx="101.40" cy="457.23" r="1.45" fill="#104c8a"/>
<circle cx="104.76" cy="456.68" r="1.45" fill="#104c8a"/>
<circle cx="98.91" cy="457.90" r="1.45" fill="#104c8a"/>
<circle cx="102.13" cy="459.58" r="1.45" fill="#104c8a"/>
<circle cx="104.31" cy="458.48" r="1.45" fill="#104c8a"/>
<circle cx="97.96" cy="460.18" r="1.45" fill="#104c8a"/>
<circle cx="100.14" cy="460.82" r="1.45" fill="#104c8a"/>
<circle cx="103.63" cy="461.00" r="1.45" fill="#104c8a"/>
<circle cx="106.44" cy="461.39" r="1.45" fill="#104c8a"/>
<circle cx="98.67" cy="464.83" r="1.45" fill="#104c8a"/>
<circle cx="101.94" cy="463.06" r="1.45" fill="#104c8a"/>
<circle cx="104.52" cy="463.62" r="1.45" fill="#104c8a"/>
<circle cx="96.48" cy="469.93" r="1.45" fill="#104c8a"/>
<circle cx="99.39" cy="468.48" r="1.45" fill="#104c8a"/>
<circle cx="102.07" cy="468.97" r="1.45" fill="#104c8a"/>
<circle cx="104.79" cy="469.24" r="1.45" fill="#104c8a"/>
<circle cx="106.96" cy="467.70" r="1.45" fill="#104c8a"/>
<circle cx="101.90" cy="473.05" r="1.45" fill="#104c8a"/>
<circle cx="98.90" cy="477.48" r="1.45" fill="#104c8a"/>
<circle cx="101.80" cy="476.75" r="1.45" fill="#104c8a"/>
<circle cx="104.91" cy="476.95" r="1.45" fill="#104c8a"/>
<circle cx="98.63" cy="480.77" r="1.45" fill="#104c8a"/>
<circle cx="101.62" cy="481.40" r="1.45" fill="#104c8a"/>
<circle cx="105.03" cy="482.07" r="1.45" fill="#104c8a"/>
<circle cx="100.73" cy="483.06" r="1.45" fill="#104c8a"/>
<circle cx="102.69" cy="482.70" r="1.45" fill="#104c8a"/>
<circle cx="123.80" cy="381.20" r="1.45" fill="#c8102e"/>
<circle cx="125.00" cy="389.00" r="1.45" fill="#c8102e"/>
<circle cx="126.20" cy="391.80" r="1.45" fill="#c8102e"/>
<circle cx="125.00" cy="404.22" r="1.45" fill="#c8102e"/>
<circle cx="123.63" cy="406.54" r="1.45" fill="#c8102e"/>
<circle cx="126.90" cy="407.03" r="1.45" fill="#c8102e"/>
<circle cx="125.00" cy="409.42" r="1.45" fill="#c8102e"/>
<circle cx="122.24" cy="424.83" r="1.45" fill="#c8102e"/>
<circle cx="125.09" cy="424.07" r="1.45" fill="#c8102e"/>
<circle cx="127.56" cy="424.09" r="1.45" fill="#c8102e"/>
<circle cx="123.80" cy="426.34" r="1.45" fill="#c8102e"/>
<circle cx="123.80" cy="430.73" r="1.45" fill="#c8102e"/>
<circle cx="129.96" cy="435.68" r="1.45" fill="#c8102e"/>
<circle cx="120.65" cy="438.02" r="1.45" fill="#c8102e"/>
<circle cx="125.67" cy="442.42" r="1.45" fill="#c8102e"/>
<circle cx="130.51" cy="442.69" r="1.45" fill="#c8102e"/>
<circle cx="123.56" cy="447.38" r="1.45" fill="#c8102e"/>
<circle cx="129.94" cy="449.10" r="1.45" fill="#c8102e"/>
<circle cx="119.67" cy="449.35" r="1.45" fill="#c8102e"/>
<circle cx="125.59" cy="449.75" r="1.45" fill="#c8102e"/>
<circle cx="122.34" cy="450.01" r="1.45" fill="#c8102e"/>
<circle cx="123.08" cy="455.30" r="1.45" fill="#c8102e"/>
<circle cx="129.73" cy="455.54" r="1.45" fill="#c8102e"/>
<circle cx="119.23" cy="455.63" r="1.45" fill="#c8102e"/>
<circle cx="129.05" cy="458.64" r="1.45" fill="#c8102e"/>
<circle cx="122.54" cy="459.11" r="1.45" fill="#c8102e"/>
<circle cx="119.97" cy="461.08" r="1.45" fill="#c8102e"/>
<circle cx="125.07" cy="462.85" r="1.45" fill="#c8102e"/>
<circle cx="121.76" cy="464.27" r="1.45" fill="#c8102e"/>
<circle cx="130.54" cy="464.64" r="1.45" fill="#c8102e"/>
<circle cx="126.90" cy="465.03" r="1.45" fill="#c8102e"/>
<circle cx="119.05" cy="466.18" r="1.45" fill="#c8102e"/>
<circle cx="124.63" cy="467.28" r="1.45" fill="#c8102e"/>
<circle cx="123.09" cy="474.08" r="1.45" fill="#c8102e"/>
<circle cx="123.03" cy="482.44" r="1.45" fill="#c8102e"/>
<circle cx="119.92" cy="483.47" r="1.45" fill="#c8102e"/>
<circle cx="130.04" cy="484.24" r="1.45" fill="#c8102e"/>
<circle cx="127.04" cy="484.34" r="1.45" fill="#c8102e"/>
<circle cx="124.13" cy="485.26" r="1.45" fill="#c8102e"/>
<circle cx="121.05" cy="486.78" r="1.45" fill="#c8102e"/>
<circle cx="128.02" cy="488.45" r="1.45" fill="#c8102e"/>
<circle cx="123.37" cy="488.98" r="1.45" fill="#c8102e"/>
<path d="M52.30,429.50 H58.70 M55.50,429.50 V438.50 M52.30,438.50 H58.70" fill="none" stroke="#1a1a1a" stroke-width="0.9"/>
<path d="M75.40,432.50 H81.80 M78.60,432.50 V458.20 M75.40,458.20 H81.80" fill="none" stroke="#1a1a1a" stroke-width="0.9"/>
<path d="M98.60,438.00 H105.00 M101.80,438.00 V444.00 M98.60,444.00 H105.00" fill="none" stroke="#1a1a1a" stroke-width="0.9"/>
<path d="M121.80,425.10 H128.20 M125.00,425.10 V437.00 M121.80,437.00 H128.20" fill="none" stroke="#1a1a1a" stroke-width="0.9"/>
<line x1="40.20" y1="372.50" x2="40.20" y2="495.50" stroke="#1a1a1a" stroke-width="1.1"/>
<line x1="39.70" y1="495.00" x2="135.80" y2="495.00" stroke="#1a1a1a" stroke-width="1.1"/>
<line x1="37.00" y1="375.50" x2="40.20" y2="375.50" stroke="#1a1a1a" stroke-width="0.9"/>
<line x1="37.00" y1="406.20" x2="40.20" y2="406.20" stroke="#1a1a1a" stroke-width="0.9"/>
<line x1="37.00" y1="435.50" x2="40.20" y2="435.50" stroke="#1a1a1a" stroke-width="0.9"/>
<line x1="37.00" y1="465.00" x2="40.20" y2="465.00" stroke="#1a1a1a" stroke-width="0.9"/>
<line x1="37.00" y1="473.00" x2="40.20" y2="473.00" stroke="#1a1a1a" stroke-width="0.9"/>
<line x1="37.00" y1="495.00" x2="40.20" y2="495.00" stroke="#1a1a1a" stroke-width="0.9"/>
<text x="34.00" y="378.30" font-size="8.2" text-anchor="end" font-weight="normal" fill="#222" textLength="11.8" lengthAdjust="spacingAndGlyphs">800</text>
<text x="34.00" y="409.00" font-size="8.2" text-anchor="end" font-weight="normal" fill="#222" textLength="11.8" lengthAdjust="spacingAndGlyphs">600</text>
<text x="34.00" y="438.30" font-size="8.2" text-anchor="end" font-weight="normal" fill="#222" textLength="11.8" lengthAdjust="spacingAndGlyphs">400</text>
<text x="34.00" y="467.80" font-size="8.2" text-anchor="end" font-weight="normal" fill="#222" textLength="11.8" lengthAdjust="spacingAndGlyphs">200</text>
<text x="34.00" y="475.80" font-size="8.2" text-anchor="end" font-weight="normal" fill="#222" textLength="11.8" lengthAdjust="spacingAndGlyphs">150</text>
<text x="34.00" y="497.80" font-size="8.2" text-anchor="end" font-weight="normal" fill="#222" textLength="3.9" lengthAdjust="spacingAndGlyphs">0</text>
<text x="0" y="0" font-size="9.5" text-anchor="middle" fill="#222" transform="translate(14.80,434.80) rotate(-90)" textLength="65" lengthAdjust="spacingAndGlyphs">Fibrinogen (ng/mL)</text>
<path d="M55.00,362.20 V357.00 H78.80 V362.50" fill="none" stroke="#2a2a2a" stroke-width="1.0"/>
<text x="66.90" y="354.30" font-size="9.2" text-anchor="middle" font-weight="normal" fill="#2a2a2a" textLength="8.6" lengthAdjust="spacingAndGlyphs">ns</text>
<path d="M102.00,363.20 V357.00 H125.00 V375.50" fill="none" stroke="#2a2a2a" stroke-width="1.0"/>
<text x="113.50" y="354.30" font-size="9.2" text-anchor="middle" font-weight="normal" fill="#2a2a2a" textLength="8.6" lengthAdjust="spacingAndGlyphs">ns</text>
<text x="63.30" y="505.00" font-size="8.1" text-anchor="middle" font-weight="normal" fill="#222">Routine</text>
<text x="63.30" y="514.10" font-size="8.1" text-anchor="middle" font-weight="normal" fill="#222">investigation</text>
<text x="116.30" y="505.00" font-size="8.1" text-anchor="middle" font-weight="normal" fill="#222">HLH</text>
<text x="116.30" y="514.10" font-size="8.1" text-anchor="middle" font-weight="normal" fill="#222">suspected</text>
<rect x="139.30" y="436.30" width="30.20" height="22.50" fill="#c6d5e2"/>
<text x="142.20" y="445.30" font-size="7.8" text-anchor="start" font-weight="normal" fill="#222" textLength="23.63" lengthAdjust="spacingAndGlyphs">Normal</text>
<text x="142.20" y="453.90" font-size="7.8" text-anchor="start" font-weight="normal" fill="#222" textLength="18.75" lengthAdjust="spacingAndGlyphs">range</text>
<rect x="139.30" y="462.50" width="39.50" height="29.50" fill="#c6d5e2"/>
<text x="142.20" y="471.50" font-size="7.8" text-anchor="start" font-weight="normal" fill="#222" textLength="33.42" lengthAdjust="spacingAndGlyphs">HLH-2004</text>
<text x="142.20" y="480.10" font-size="7.8" text-anchor="start" font-weight="normal" fill="#222" textLength="33.02" lengthAdjust="spacingAndGlyphs">diagnostic</text>
<text x="142.20" y="488.70" font-size="7.8" text-anchor="start" font-weight="normal" fill="#222" textLength="17.53" lengthAdjust="spacingAndGlyphs">value</text>
<rect x="260.20" y="473.00" width="96.10" height="22.00" fill="#dadada"/>
<line x1="260.20" y1="456.00" x2="356.30" y2="456.00" stroke="#4a4a4a" stroke-width="0.85" stroke-dasharray="1.3,1.0"/>
<line x1="260.20" y1="472.80" x2="356.30" y2="472.80" stroke="#4a4a4a" stroke-width="0.85" stroke-dasharray="1.3,1.0"/>
<rect x="268.30" y="476.30" width="14.70" height="18.70" fill="#86a5c4"/>
<rect x="291.30" y="464.90" width="15.00" height="30.10" fill="#df8796"/>
<rect x="314.50" y="432.00" width="15.00" height="63.00" fill="#86a5c4"/>
<rect x="337.00" y="450.80" width="14.80" height="44.20" fill="#df8796"/>
<circle cx="276.70" cy="422.00" r="1.45" fill="#104c8a"/>
<circle cx="275.50" cy="454.30" r="1.45" fill="#104c8a"/>
<circle cx="274.30" cy="457.00" r="1.45" fill="#104c8a"/>
<circle cx="274.30" cy="460.00" r="1.45" fill="#104c8a"/>
<circle cx="275.50" cy="463.00" r="1.45" fill="#104c8a"/>
<circle cx="271.81" cy="468.12" r="1.45" fill="#104c8a"/>
<circle cx="273.58" cy="469.67" r="1.45" fill="#104c8a"/>
<circle cx="276.68" cy="468.12" r="1.45" fill="#104c8a"/>
<circle cx="279.03" cy="469.26" r="1.45" fill="#104c8a"/>
<circle cx="273.95" cy="470.57" r="1.45" fill="#104c8a"/>
<circle cx="276.45" cy="471.34" r="1.45" fill="#104c8a"/>
<circle cx="269.20" cy="473.15" r="1.45" fill="#104c8a"/>
<circle cx="271.64" cy="473.71" r="1.45" fill="#104c8a"/>
<circle cx="273.81" cy="473.62" r="1.45" fill="#104c8a"/>
<circle cx="277.03" cy="474.48" r="1.45" fill="#104c8a"/>
<circle cx="279.04" cy="472.85" r="1.45" fill="#104c8a"/>
<circle cx="281.55" cy="474.87" r="1.45" fill="#104c8a"/>
<circle cx="270.41" cy="475.11" r="1.45" fill="#104c8a"/>
<circle cx="272.95" cy="477.10" r="1.45" fill="#104c8a"/>
<circle cx="275.11" cy="475.52" r="1.45" fill="#104c8a"/>
<circle cx="278.46" cy="476.38" r="1.45" fill="#104c8a"/>
<circle cx="280.61" cy="475.71" r="1.45" fill="#104c8a"/>
<circle cx="269.20" cy="479.96" r="1.45" fill="#104c8a"/>
<circle cx="270.12" cy="477.76" r="1.45" fill="#104c8a"/>
<circle cx="270.90" cy="478.62" r="1.45" fill="#104c8a"/>
<circle cx="272.25" cy="479.00" r="1.45" fill="#104c8a"/>
<circle cx="273.74" cy="479.69" r="1.45" fill="#104c8a"/>
<circle cx="275.18" cy="479.30" r="1.45" fill="#104c8a"/>
<circle cx="275.95" cy="478.52" r="1.45" fill="#104c8a"/>
<circle cx="276.76" cy="477.68" r="1.45" fill="#104c8a"/>
<circle cx="278.19" cy="479.66" r="1.45" fill="#104c8a"/>
<circle cx="279.30" cy="478.34" r="1.45" fill="#104c8a"/>
<circle cx="281.05" cy="478.47" r="1.45" fill="#104c8a"/>
<circle cx="281.52" cy="478.85" r="1.45" fill="#104c8a"/>
<circle cx="273.78" cy="480.14" r="1.45" fill="#104c8a"/>
<circle cx="276.34" cy="481.06" r="1.45" fill="#104c8a"/>
<circle cx="269.20" cy="483.65" r="1.45" fill="#104c8a"/>
<circle cx="271.73" cy="483.35" r="1.45" fill="#104c8a"/>
<circle cx="273.68" cy="483.59" r="1.45" fill="#104c8a"/>
<circle cx="275.77" cy="484.59" r="1.45" fill="#104c8a"/>
<circle cx="277.99" cy="483.41" r="1.45" fill="#104c8a"/>
<circle cx="280.18" cy="483.33" r="1.45" fill="#104c8a"/>
<circle cx="281.80" cy="483.53" r="1.45" fill="#104c8a"/>
<circle cx="271.90" cy="485.84" r="1.45" fill="#104c8a"/>
<circle cx="274.40" cy="485.00" r="1.45" fill="#104c8a"/>
<circle cx="277.22" cy="485.28" r="1.45" fill="#104c8a"/>
<circle cx="279.16" cy="487.39" r="1.45" fill="#104c8a"/>
<circle cx="271.14" cy="489.97" r="1.45" fill="#104c8a"/>
<circle cx="273.80" cy="489.63" r="1.45" fill="#104c8a"/>
<circle cx="277.26" cy="489.67" r="1.45" fill="#104c8a"/>
<circle cx="279.63" cy="488.15" r="1.45" fill="#104c8a"/>
<circle cx="298.20" cy="376.40" r="1.45" fill="#c8102e"/>
<circle cx="298.20" cy="464.00" r="1.45" fill="#c8102e"/>
<circle cx="298.20" cy="473.50" r="1.45" fill="#c8102e"/>
<circle cx="292.50" cy="478.30" r="1.45" fill="#c8102e"/>
<circle cx="298.20" cy="478.30" r="1.45" fill="#c8102e"/>
<circle cx="304.40" cy="478.30" r="1.45" fill="#c8102e"/>
<circle cx="298.20" cy="481.20" r="1.45" fill="#c8102e"/>
<circle cx="298.20" cy="486.00" r="1.45" fill="#c8102e"/>
<circle cx="322.70" cy="382.20" r="1.45" fill="#104c8a"/>
<circle cx="321.50" cy="389.90" r="1.45" fill="#104c8a"/>
<circle cx="321.50" cy="392.80" r="1.45" fill="#104c8a"/>
<circle cx="319.90" cy="405.06" r="1.45" fill="#104c8a"/>
<circle cx="323.34" cy="406.86" r="1.45" fill="#104c8a"/>
<circle cx="320.34" cy="408.17" r="1.45" fill="#104c8a"/>
<circle cx="322.71" cy="408.51" r="1.45" fill="#104c8a"/>
<circle cx="320.30" cy="412.21" r="1.45" fill="#104c8a"/>
<circle cx="318.55" cy="421.35" r="1.45" fill="#104c8a"/>
<circle cx="321.89" cy="422.44" r="1.45" fill="#104c8a"/>
<circle cx="323.97" cy="421.34" r="1.45" fill="#104c8a"/>
<circle cx="319.82" cy="427.15" r="1.45" fill="#104c8a"/>
<circle cx="323.26" cy="426.10" r="1.45" fill="#104c8a"/>
<circle cx="321.50" cy="427.95" r="1.45" fill="#104c8a"/>
<circle cx="320.84" cy="438.13" r="1.45" fill="#104c8a"/>
<circle cx="326.41" cy="438.20" r="1.45" fill="#104c8a"/>
<circle cx="316.54" cy="438.69" r="1.45" fill="#104c8a"/>
<circle cx="324.50" cy="443.59" r="1.45" fill="#104c8a"/>
<circle cx="316.41" cy="444.43" r="1.45" fill="#104c8a"/>
<circle cx="319.44" cy="444.66" r="1.45" fill="#104c8a"/>
<circle cx="323.59" cy="446.61" r="1.45" fill="#104c8a"/>
<circle cx="327.17" cy="447.47" r="1.45" fill="#104c8a"/>
<circle cx="318.23" cy="448.91" r="1.45" fill="#104c8a"/>
<circle cx="322.86" cy="453.14" r="1.45" fill="#104c8a"/>
<circle cx="317.97" cy="453.87" r="1.45" fill="#104c8a"/>
<circle cx="326.27" cy="455.53" r="1.45" fill="#104c8a"/>
<circle cx="315.93" cy="460.91" r="1.45" fill="#104c8a"/>
<circle cx="319.60" cy="460.99" r="1.45" fill="#104c8a"/>
<circle cx="327.10" cy="461.64" r="1.45" fill="#104c8a"/>
<circle cx="322.43" cy="463.57" r="1.45" fill="#104c8a"/>
<circle cx="326.82" cy="465.35" r="1.45" fill="#104c8a"/>
<circle cx="322.84" cy="466.80" r="1.45" fill="#104c8a"/>
<circle cx="326.63" cy="470.72" r="1.45" fill="#104c8a"/>
<circle cx="320.23" cy="470.83" r="1.45" fill="#104c8a"/>
<circle cx="316.39" cy="471.95" r="1.45" fill="#104c8a"/>
<circle cx="323.64" cy="472.17" r="1.45" fill="#104c8a"/>
<circle cx="319.02" cy="473.56" r="1.45" fill="#104c8a"/>
<circle cx="327.15" cy="473.70" r="1.45" fill="#104c8a"/>
<circle cx="322.94" cy="476.24" r="1.45" fill="#104c8a"/>
<circle cx="327.42" cy="489.00" r="1.45" fill="#104c8a"/>
<circle cx="321.22" cy="489.00" r="1.45" fill="#104c8a"/>
<circle cx="345.40" cy="372.00" r="1.45" fill="#c8102e"/>
<circle cx="343.00" cy="381.20" r="1.45" fill="#c8102e"/>
<circle cx="345.40" cy="392.40" r="1.45" fill="#c8102e"/>
<circle cx="344.20" cy="403.59" r="1.45" fill="#c8102e"/>
<circle cx="343.00" cy="406.08" r="1.45" fill="#c8102e"/>
<circle cx="344.20" cy="408.34" r="1.45" fill="#c8102e"/>
<circle cx="343.00" cy="411.05" r="1.45" fill="#c8102e"/>
<circle cx="345.40" cy="420.50" r="1.45" fill="#c8102e"/>
<circle cx="344.20" cy="423.27" r="1.45" fill="#c8102e"/>
<circle cx="343.00" cy="425.29" r="1.45" fill="#c8102e"/>
<circle cx="342.35" cy="429.72" r="1.45" fill="#c8102e"/>
<circle cx="345.45" cy="427.53" r="1.45" fill="#c8102e"/>
<circle cx="343.00" cy="431.54" r="1.45" fill="#c8102e"/>
<circle cx="344.20" cy="434.10" r="1.45" fill="#c8102e"/>
<circle cx="342.35" cy="438.47" r="1.45" fill="#c8102e"/>
<circle cx="345.77" cy="437.84" r="1.45" fill="#c8102e"/>
<circle cx="343.00" cy="441.40" r="1.45" fill="#c8102e"/>
<circle cx="341.03" cy="443.79" r="1.45" fill="#c8102e"/>
<circle cx="343.65" cy="444.21" r="1.45" fill="#c8102e"/>
<circle cx="347.01" cy="443.53" r="1.45" fill="#c8102e"/>
<circle cx="341.01" cy="447.07" r="1.45" fill="#c8102e"/>
<circle cx="343.64" cy="447.22" r="1.45" fill="#c8102e"/>
<circle cx="346.85" cy="445.61" r="1.45" fill="#c8102e"/>
<circle cx="338.86" cy="449.68" r="1.45" fill="#c8102e"/>
<circle cx="341.33" cy="448.24" r="1.45" fill="#c8102e"/>
<circle cx="343.97" cy="449.36" r="1.45" fill="#c8102e"/>
<circle cx="346.74" cy="449.35" r="1.45" fill="#c8102e"/>
<circle cx="349.58" cy="448.92" r="1.45" fill="#c8102e"/>
<circle cx="340.90" cy="451.66" r="1.45" fill="#c8102e"/>
<circle cx="344.16" cy="452.34" r="1.45" fill="#c8102e"/>
<circle cx="346.56" cy="451.43" r="1.45" fill="#c8102e"/>
<circle cx="341.16" cy="454.52" r="1.45" fill="#c8102e"/>
<circle cx="343.89" cy="454.11" r="1.45" fill="#c8102e"/>
<circle cx="347.26" cy="453.24" r="1.45" fill="#c8102e"/>
<circle cx="338.47" cy="456.96" r="1.45" fill="#c8102e"/>
<circle cx="341.94" cy="455.97" r="1.45" fill="#c8102e"/>
<circle cx="344.41" cy="456.21" r="1.45" fill="#c8102e"/>
<circle cx="347.39" cy="455.26" r="1.45" fill="#c8102e"/>
<circle cx="350.05" cy="455.98" r="1.45" fill="#c8102e"/>
<circle cx="338.15" cy="457.83" r="1.45" fill="#c8102e"/>
<circle cx="339.30" cy="459.62" r="1.45" fill="#c8102e"/>
<circle cx="341.09" cy="459.73" r="1.45" fill="#c8102e"/>
<circle cx="342.92" cy="459.89" r="1.45" fill="#c8102e"/>
<circle cx="344.55" cy="458.79" r="1.45" fill="#c8102e"/>
<circle cx="346.36" cy="459.54" r="1.45" fill="#c8102e"/>
<circle cx="348.24" cy="458.50" r="1.45" fill="#c8102e"/>
<circle cx="350.50" cy="459.52" r="1.45" fill="#c8102e"/>
<circle cx="340.55" cy="460.34" r="1.45" fill="#c8102e"/>
<circle cx="343.42" cy="462.07" r="1.45" fill="#c8102e"/>
<circle cx="345.52" cy="462.30" r="1.45" fill="#c8102e"/>
<circle cx="348.46" cy="460.99" r="1.45" fill="#c8102e"/>
<circle cx="343.08" cy="462.65" r="1.45" fill="#c8102e"/>
<circle cx="345.80" cy="463.67" r="1.45" fill="#c8102e"/>
<circle cx="341.71" cy="467.44" r="1.45" fill="#c8102e"/>
<circle cx="344.61" cy="466.87" r="1.45" fill="#c8102e"/>
<circle cx="347.29" cy="466.55" r="1.45" fill="#c8102e"/>
<circle cx="344.20" cy="468.63" r="1.45" fill="#c8102e"/>
<circle cx="339.92" cy="471.73" r="1.45" fill="#c8102e"/>
<circle cx="342.86" cy="470.59" r="1.45" fill="#c8102e"/>
<circle cx="346.00" cy="470.91" r="1.45" fill="#c8102e"/>
<circle cx="348.63" cy="470.09" r="1.45" fill="#c8102e"/>
<circle cx="342.41" cy="473.96" r="1.45" fill="#c8102e"/>
<circle cx="345.45" cy="474.56" r="1.45" fill="#c8102e"/>
<circle cx="343.37" cy="475.29" r="1.45" fill="#c8102e"/>
<circle cx="345.74" cy="475.26" r="1.45" fill="#c8102e"/>
<circle cx="342.71" cy="479.33" r="1.45" fill="#c8102e"/>
<circle cx="345.17" cy="478.18" r="1.45" fill="#c8102e"/>
<circle cx="338.88" cy="480.87" r="1.45" fill="#c8102e"/>
<circle cx="341.00" cy="481.73" r="1.45" fill="#c8102e"/>
<circle cx="343.96" cy="481.84" r="1.45" fill="#c8102e"/>
<circle cx="346.33" cy="481.23" r="1.45" fill="#c8102e"/>
<circle cx="350.19" cy="481.99" r="1.45" fill="#c8102e"/>
<circle cx="343.15" cy="483.00" r="1.45" fill="#c8102e"/>
<circle cx="345.08" cy="484.25" r="1.45" fill="#c8102e"/>
<circle cx="340.73" cy="487.42" r="1.45" fill="#c8102e"/>
<circle cx="342.84" cy="486.85" r="1.45" fill="#c8102e"/>
<circle cx="345.00" cy="485.69" r="1.45" fill="#c8102e"/>
<circle cx="348.59" cy="485.61" r="1.45" fill="#c8102e"/>
<circle cx="344.20" cy="487.78" r="1.45" fill="#c8102e"/>
<path d="M272.50,473.00 H278.90 M275.70,473.00 V480.00 M272.50,480.00 H278.90" fill="none" stroke="#1a1a1a" stroke-width="0.9"/>
<path d="M295.60,451.50 H302.00 M298.80,451.50 V477.80 M295.60,477.80 H302.00" fill="none" stroke="#1a1a1a" stroke-width="0.9"/>
<path d="M318.80,425.80 H325.20 M322.00,425.80 V437.10 M318.80,437.10 H325.20" fill="none" stroke="#1a1a1a" stroke-width="0.9"/>
<line x1="260.20" y1="372.50" x2="260.20" y2="495.50" stroke="#1a1a1a" stroke-width="1.1"/>
<line x1="259.70" y1="495.00" x2="356.30" y2="495.00" stroke="#1a1a1a" stroke-width="1.1"/>
<line x1="257.00" y1="377.50" x2="260.20" y2="377.50" stroke="#1a1a1a" stroke-width="0.9"/>
<line x1="257.00" y1="407.00" x2="260.20" y2="407.00" stroke="#1a1a1a" stroke-width="0.9"/>
<line x1="257.00" y1="436.30" x2="260.20" y2="436.30" stroke="#1a1a1a" stroke-width="0.9"/>
<line x1="257.00" y1="455.80" x2="260.20" y2="455.80" stroke="#1a1a1a" stroke-width="0.9"/>
<line x1="257.00" y1="465.00" x2="260.20" y2="465.00" stroke="#1a1a1a" stroke-width="0.9"/>
<line x1="257.00" y1="472.50" x2="260.20" y2="472.50" stroke="#1a1a1a" stroke-width="0.9"/>
<line x1="257.00" y1="495.00" x2="260.20" y2="495.00" stroke="#1a1a1a" stroke-width="0.9"/>
<text x="254.30" y="380.30" font-size="8.2" text-anchor="end" font-weight="normal" fill="#222" textLength="11.8" lengthAdjust="spacingAndGlyphs">800</text>
<text x="254.30" y="409.80" font-size="8.2" text-anchor="end" font-weight="normal" fill="#222" textLength="11.8" lengthAdjust="spacingAndGlyphs">600</text>
<text x="254.30" y="439.10" font-size="8.2" text-anchor="end" font-weight="normal" fill="#222" textLength="11.8" lengthAdjust="spacingAndGlyphs">400</text>
<text x="254.30" y="458.60" font-size="8.2" text-anchor="end" font-weight="normal" fill="#222" textLength="11.8" lengthAdjust="spacingAndGlyphs">265</text>
<text x="254.30" y="467.80" font-size="8.2" text-anchor="end" font-weight="normal" fill="#222" textLength="11.8" lengthAdjust="spacingAndGlyphs">200</text>
<text x="254.30" y="475.30" font-size="8.2" text-anchor="end" font-weight="normal" fill="#222" textLength="11.8" lengthAdjust="spacingAndGlyphs">150</text>
<text x="254.30" y="497.80" font-size="8.2" text-anchor="end" font-weight="normal" fill="#222" textLength="3.9" lengthAdjust="spacingAndGlyphs">0</text>
<text x="0" y="0" font-size="9.5" text-anchor="middle" fill="#222" transform="translate(232.80,429.80) rotate(-90)" textLength="35" lengthAdjust="spacingAndGlyphs">Tg (mg/dl)</text>
<path d="M275.00,406.30 V357.00 H298.30 V365.00" fill="none" stroke="#2a2a2a" stroke-width="1.0"/>
<text x="286.65" y="354.30" font-size="9.2" text-anchor="middle" font-weight="normal" fill="#2a2a2a" textLength="8.6" lengthAdjust="spacingAndGlyphs">ns</text>
<path d="M321.30,364.20 V357.00 H344.30 V364.50" fill="none" stroke="#2a2a2a" stroke-width="1.0"/>
<polygon points="331.15,350.00 331.74,351.28 333.15,351.45 332.11,352.41 332.38,353.80 331.15,353.11 329.92,353.80 330.19,352.41 329.15,351.45 330.56,351.28" fill="#1a1a1a"/>
<polygon points="335.25,350.00 335.84,351.28 337.25,351.45 336.21,352.41 336.48,353.80 335.25,353.11 334.02,353.80 334.29,352.41 333.25,351.45 334.66,351.28" fill="#1a1a1a"/>
<text x="283.40" y="505.00" font-size="8.1" text-anchor="middle" font-weight="normal" fill="#222">Routine</text>
<text x="283.40" y="514.10" font-size="8.1" text-anchor="middle" font-weight="normal" fill="#222">investigation</text>
<text x="331.70" y="505.00" font-size="8.1" text-anchor="middle" font-weight="normal" fill="#222">HLH</text>
<text x="331.70" y="514.10" font-size="8.1" text-anchor="middle" font-weight="normal" fill="#222">suspected</text>
<rect x="359.30" y="445.80" width="40.20" height="20.50" fill="#c6d5e2"/>
<text x="362.20" y="454.80" font-size="7.8" text-anchor="start" font-weight="normal" fill="#222" textLength="34.23" lengthAdjust="spacingAndGlyphs">Diagnostic</text>
<text x="362.20" y="463.40" font-size="7.8" text-anchor="start" font-weight="normal" fill="#222" textLength="17.53" lengthAdjust="spacingAndGlyphs">value</text>
<rect x="359.30" y="472.50" width="29.50" height="22.00" fill="#c6d5e2"/>
<text x="362.20" y="481.50" font-size="7.8" text-anchor="start" font-weight="normal" fill="#222" textLength="23.63" lengthAdjust="spacingAndGlyphs">Normal</text>
<text x="362.20" y="490.10" font-size="7.8" text-anchor="start" font-weight="normal" fill="#222" textLength="18.75" lengthAdjust="spacingAndGlyphs">range</text>
<line x1="40.20" y1="552.00" x2="40.20" y2="662.50" stroke="#1a1a1a" stroke-width="1.1"/>
<line x1="36.70" y1="662.00" x2="40.20" y2="662.00" stroke="#1a1a1a" stroke-width="0.8"/>
<line x1="38.20" y1="656.69" x2="40.20" y2="656.69" stroke="#1a1a1a" stroke-width="0.8"/>
<line x1="38.20" y1="651.38" x2="40.20" y2="651.38" stroke="#1a1a1a" stroke-width="0.8"/>
<line x1="38.20" y1="646.07" x2="40.20" y2="646.07" stroke="#1a1a1a" stroke-width="0.8"/>
<line x1="38.20" y1="640.76" x2="40.20" y2="640.76" stroke="#1a1a1a" stroke-width="0.8"/>
<line x1="38.20" y1="635.45" x2="40.20" y2="635.45" stroke="#1a1a1a" stroke-width="0.8"/>
<line x1="38.20" y1="630.14" x2="40.20" y2="630.14" stroke="#1a1a1a" stroke-width="0.8"/>
<line x1="38.20" y1="624.83" x2="40.20" y2="624.83" stroke="#1a1a1a" stroke-width="0.8"/>
<line x1="38.20" y1="619.52" x2="40.20" y2="619.52" stroke="#1a1a1a" stroke-width="0.8"/>
<line x1="38.20" y1="614.21" x2="40.20" y2="614.21" stroke="#1a1a1a" stroke-width="0.8"/>
<line x1="36.70" y1="608.90" x2="40.20" y2="608.90" stroke="#1a1a1a" stroke-width="0.8"/>
<line x1="38.20" y1="603.59" x2="40.20" y2="603.59" stroke="#1a1a1a" stroke-width="0.8"/>
<line x1="38.20" y1="598.28" x2="40.20" y2="598.28" stroke="#1a1a1a" stroke-width="0.8"/>
<line x1="38.20" y1="592.97" x2="40.20" y2="592.97" stroke="#1a1a1a" stroke-width="0.8"/>
<line x1="38.20" y1="587.66" x2="40.20" y2="587.66" stroke="#1a1a1a" stroke-width="0.8"/>
<line x1="38.20" y1="582.35" x2="40.20" y2="582.35" stroke="#1a1a1a" stroke-width="0.8"/>
<line x1="38.20" y1="577.04" x2="40.20" y2="577.04" stroke="#1a1a1a" stroke-width="0.8"/>
<line x1="38.20" y1="571.73" x2="40.20" y2="571.73" stroke="#1a1a1a" stroke-width="0.8"/>
<line x1="38.20" y1="566.42" x2="40.20" y2="566.42" stroke="#1a1a1a" stroke-width="0.8"/>
<line x1="38.20" y1="561.11" x2="40.20" y2="561.11" stroke="#1a1a1a" stroke-width="0.8"/>
<line x1="36.70" y1="555.80" x2="40.20" y2="555.80" stroke="#1a1a1a" stroke-width="0.8"/>
<text x="33.80" y="558.60" font-size="8.2" text-anchor="end" font-weight="normal" fill="#222" textLength="11.8" lengthAdjust="spacingAndGlyphs">100</text>
<text x="33.80" y="611.80" font-size="8.2" text-anchor="end" font-weight="normal" fill="#222" textLength="7.7" lengthAdjust="spacingAndGlyphs">50</text>
<text x="33.80" y="664.80" font-size="8.2" text-anchor="end" font-weight="normal" fill="#222" textLength="3.9" lengthAdjust="spacingAndGlyphs">0</text>
<text x="0" y="0" font-size="8.8" text-anchor="middle" fill="#222" transform="translate(16.60,609.40) rotate(-90)" textLength="11" lengthAdjust="spacingAndGlyphs">(%)</text>
<line x1="40.20" y1="662.00" x2="167.50" y2="662.00" stroke="#1a1a1a" stroke-width="1.1"/>
<rect x="51.80" y="556.80" width="18.70" height="68.00" fill="#134f81"/>
<rect x="51.80" y="624.80" width="18.70" height="37.20" fill="#c8102e"/>
<rect x="51.80" y="556.20" width="18.70" height="1.00" fill="#e4dfe0"/>
<line x1="61.15" y1="662.00" x2="61.15" y2="664.00" stroke="#1a1a1a" stroke-width="0.8"/>
<rect x="82.00" y="556.20" width="18.80" height="105.80" fill="#c8102e"/>
<line x1="91.40" y1="662.00" x2="91.40" y2="664.00" stroke="#1a1a1a" stroke-width="0.8"/>
<rect x="112.50" y="556.20" width="18.80" height="2.60" fill="#bdbdc1"/>
<rect x="112.50" y="558.80" width="18.80" height="39.50" fill="#134f81"/>
<rect x="112.50" y="598.30" width="18.80" height="63.70" fill="#c8102e"/>
<line x1="121.90" y1="662.00" x2="121.90" y2="664.00" stroke="#1a1a1a" stroke-width="0.8"/>
<rect x="143.00" y="556.20" width="18.80" height="8.30" fill="#134f81"/>
<rect x="143.00" y="564.50" width="18.80" height="97.50" fill="#c8102e"/>
<line x1="152.40" y1="662.00" x2="152.40" y2="664.00" stroke="#1a1a1a" stroke-width="0.8"/>
<text x="104.00" y="533.80" font-size="8.5" text-anchor="middle" font-weight="bold" fill="#111">Fever</text>
<path d="M60.60,555.80 V551.30 H91.30 V555.80" fill="none" stroke="#2a2a2a" stroke-width="0.9"/>
<polygon points="70.20,544.30 70.79,545.58 72.20,545.75 71.16,546.71 71.43,548.10 70.20,547.41 68.97,548.10 69.24,546.71 68.20,545.75 69.61,545.58" fill="#1a1a1a"/>
<polygon points="74.30,544.30 74.89,545.58 76.30,545.75 75.26,546.71 75.53,548.10 74.30,547.41 73.07,548.10 73.34,546.71 72.30,545.75 73.71,545.58" fill="#1a1a1a"/>
<polygon points="78.40,544.30 78.99,545.58 80.40,545.75 79.36,546.71 79.63,548.10 78.40,547.41 77.17,548.10 77.44,546.71 76.40,545.75 77.81,545.58" fill="#1a1a1a"/>
<polygon points="82.50,544.30 83.09,545.58 84.50,545.75 83.46,546.71 83.73,548.10 82.50,547.41 81.27,548.10 81.54,546.71 80.50,545.75 81.91,545.58" fill="#1a1a1a"/>
<path d="M121.80,555.80 V551.30 H152.50 V555.80" fill="none" stroke="#2a2a2a" stroke-width="0.9"/>
<polygon points="133.45,544.30 134.04,545.58 135.45,545.75 134.41,546.71 134.68,548.10 133.45,547.41 132.22,548.10 132.49,546.71 131.45,545.75 132.86,545.58" fill="#1a1a1a"/>
<polygon points="137.55,544.30 138.14,545.58 139.55,545.75 138.51,546.71 138.78,548.10 137.55,547.41 136.32,548.10 136.59,546.71 135.55,545.75 136.96,545.58" fill="#1a1a1a"/>
<polygon points="141.65,544.30 142.24,545.58 143.65,545.75 142.61,546.71 142.88,548.10 141.65,547.41 140.42,548.10 140.69,546.71 139.65,545.75 141.06,545.58" fill="#1a1a1a"/>
<text x="61.15" y="675.00" font-size="8.6" text-anchor="middle" font-weight="normal" fill="#222" textLength="12.5" lengthAdjust="spacingAndGlyphs">HM</text>
<text x="91.40" y="675.00" font-size="8.6" text-anchor="middle" font-weight="normal" fill="#222" textLength="30.5" lengthAdjust="spacingAndGlyphs">HM-HLH</text>
<text x="121.90" y="675.00" font-size="8.6" text-anchor="middle" font-weight="normal" fill="#222" textLength="12.5" lengthAdjust="spacingAndGlyphs">HM</text>
<text x="152.40" y="675.00" font-size="8.6" text-anchor="middle" font-weight="normal" fill="#222" textLength="30.5" lengthAdjust="spacingAndGlyphs">HM-HLH</text>
<text x="76.30" y="688.20" font-size="9.8" text-anchor="middle" font-weight="normal" fill="#222" textLength="25.4" lengthAdjust="spacingAndGlyphs">Routine</text>
<text x="76.30" y="698.60" font-size="9.8" text-anchor="middle" font-weight="normal" fill="#222" textLength="42.7" lengthAdjust="spacingAndGlyphs">investigation</text>
<text x="137.15" y="688.20" font-size="9.8" text-anchor="middle" font-weight="normal" fill="#222" textLength="15" lengthAdjust="spacingAndGlyphs">HLH</text>
<text x="137.15" y="698.60" font-size="9.8" text-anchor="middle" font-weight="normal" fill="#222" textLength="33.2" lengthAdjust="spacingAndGlyphs">suspected</text>
<line x1="203.00" y1="662.00" x2="324.30" y2="662.00" stroke="#1a1a1a" stroke-width="1.1"/>
<rect x="208.80" y="556.20" width="18.70" height="12.60" fill="#bdbdc1"/>
<rect x="208.80" y="568.80" width="18.70" height="87.50" fill="#134f81"/>
<rect x="208.80" y="656.30" width="18.70" height="5.70" fill="#c8102e"/>
<line x1="218.15" y1="662.00" x2="218.15" y2="664.00" stroke="#1a1a1a" stroke-width="0.8"/>
<rect x="239.30" y="556.20" width="18.70" height="26.80" fill="#bdbdc1"/>
<rect x="239.30" y="583.00" width="18.70" height="39.50" fill="#134f81"/>
<rect x="239.30" y="622.50" width="18.70" height="39.50" fill="#c8102e"/>
<line x1="248.65" y1="662.00" x2="248.65" y2="664.00" stroke="#1a1a1a" stroke-width="0.8"/>
<rect x="270.00" y="556.20" width="18.80" height="15.10" fill="#bdbdc1"/>
<rect x="270.00" y="571.30" width="18.80" height="78.70" fill="#134f81"/>
<rect x="270.00" y="650.00" width="18.80" height="12.00" fill="#c8102e"/>
<line x1="279.40" y1="662.00" x2="279.40" y2="664.00" stroke="#1a1a1a" stroke-width="0.8"/>
<rect x="300.00" y="556.20" width="18.80" height="13.10" fill="#bdbdc1"/>
<rect x="300.00" y="569.30" width="18.80" height="54.00" fill="#134f81"/>
<rect x="300.00" y="623.30" width="18.80" height="38.70" fill="#c8102e"/>
<line x1="309.40" y1="662.00" x2="309.40" y2="664.00" stroke="#1a1a1a" stroke-width="0.8"/>
<text x="264.00" y="533.80" font-size="8.5" text-anchor="middle" font-weight="bold" fill="#111">Hemophagocytosis</text>
<path d="M218.00,555.80 V551.30 H248.80 V555.80" fill="none" stroke="#2a2a2a" stroke-width="0.9"/>
<polygon points="233.80,544.30 234.39,545.58 235.80,545.75 234.76,546.71 235.03,548.10 233.80,547.41 232.57,548.10 232.84,546.71 231.80,545.75 233.21,545.58" fill="#1a1a1a"/>
<path d="M279.30,555.80 V551.30 H309.30 V555.80" fill="none" stroke="#2a2a2a" stroke-width="0.9"/>
<polygon points="292.65,544.30 293.24,545.58 294.65,545.75 293.61,546.71 293.88,548.10 292.65,547.41 291.42,548.10 291.69,546.71 290.65,545.75 292.06,545.58" fill="#1a1a1a"/>
<polygon points="296.75,544.30 297.34,545.58 298.75,545.75 297.71,546.71 297.98,548.10 296.75,547.41 295.52,548.10 295.79,546.71 294.75,545.75 296.16,545.58" fill="#1a1a1a"/>
<text x="218.15" y="675.00" font-size="8.6" text-anchor="middle" font-weight="normal" fill="#222" textLength="12.5" lengthAdjust="spacingAndGlyphs">HM</text>
<text x="248.65" y="675.00" font-size="8.6" text-anchor="middle" font-weight="normal" fill="#222" textLength="30.5" lengthAdjust="spacingAndGlyphs">HM-HLH</text>
<text x="279.40" y="675.00" font-size="8.6" text-anchor="middle" font-weight="normal" fill="#222" textLength="12.5" lengthAdjust="spacingAndGlyphs">HM</text>
<text x="309.40" y="675.00" font-size="8.6" text-anchor="middle" font-weight="normal" fill="#222" textLength="30.5" lengthAdjust="spacingAndGlyphs">HM-HLH</text>
<text x="233.40" y="688.20" font-size="9.8" text-anchor="middle" font-weight="normal" fill="#222" textLength="25.4" lengthAdjust="spacingAndGlyphs">Routine</text>
<text x="233.40" y="698.60" font-size="9.8" text-anchor="middle" font-weight="normal" fill="#222" textLength="42.7" lengthAdjust="spacingAndGlyphs">investigation</text>
<text x="294.40" y="688.20" font-size="9.8" text-anchor="middle" font-weight="normal" fill="#222" textLength="15" lengthAdjust="spacingAndGlyphs">HLH</text>
<text x="294.40" y="698.60" font-size="9.8" text-anchor="middle" font-weight="normal" fill="#222" textLength="33.2" lengthAdjust="spacingAndGlyphs">suspected</text>
<line x1="359.50" y1="662.00" x2="482.50" y2="662.00" stroke="#1a1a1a" stroke-width="1.1"/>
<rect x="365.80" y="556.20" width="18.70" height="88.80" fill="#134f81"/>
<rect x="365.80" y="645.00" width="18.70" height="17.00" fill="#c8102e"/>
<line x1="375.15" y1="662.00" x2="375.15" y2="664.00" stroke="#1a1a1a" stroke-width="0.8"/>
<rect x="396.30" y="556.20" width="18.70" height="105.80" fill="#c8102e"/>
<line x1="405.65" y1="662.00" x2="405.65" y2="664.00" stroke="#1a1a1a" stroke-width="0.8"/>
<rect x="427.00" y="556.20" width="18.80" height="7.60" fill="#bdbdc1"/>
<rect x="427.00" y="563.80" width="18.80" height="71.20" fill="#134f81"/>
<rect x="427.00" y="635.00" width="18.80" height="27.00" fill="#c8102e"/>
<line x1="436.40" y1="662.00" x2="436.40" y2="664.00" stroke="#1a1a1a" stroke-width="0.8"/>
<rect x="457.00" y="556.20" width="18.80" height="36.30" fill="#134f81"/>
<rect x="457.00" y="592.50" width="18.80" height="69.50" fill="#c8102e"/>
<line x1="466.40" y1="662.00" x2="466.40" y2="664.00" stroke="#1a1a1a" stroke-width="0.8"/>
<text x="421.00" y="533.80" font-size="8.5" text-anchor="middle" font-weight="bold" fill="#111">Splenomegaly</text>
<path d="M375.50,555.80 V551.30 H405.50 V555.80" fill="none" stroke="#2a2a2a" stroke-width="0.9"/>
<polygon points="384.75,544.30 385.34,545.58 386.75,545.75 385.71,546.71 385.98,548.10 384.75,547.41 383.52,548.10 383.79,546.71 382.75,545.75 384.16,545.58" fill="#1a1a1a"/>
<polygon points="388.85,544.30 389.44,545.58 390.85,545.75 389.81,546.71 390.08,548.10 388.85,547.41 387.62,548.10 387.89,546.71 386.85,545.75 388.26,545.58" fill="#1a1a1a"/>
<polygon points="392.95,544.30 393.54,545.58 394.95,545.75 393.91,546.71 394.18,548.10 392.95,547.41 391.72,548.10 391.99,546.71 390.95,545.75 392.36,545.58" fill="#1a1a1a"/>
<polygon points="397.05,544.30 397.64,545.58 399.05,545.75 398.01,546.71 398.28,548.10 397.05,547.41 395.82,548.10 396.09,546.71 395.05,545.75 396.46,545.58" fill="#1a1a1a"/>
<path d="M436.30,555.80 V551.30 H466.30 V555.80" fill="none" stroke="#2a2a2a" stroke-width="0.9"/>
<polygon points="447.60,544.30 448.19,545.58 449.60,545.75 448.56,546.71 448.83,548.10 447.60,547.41 446.37,548.10 446.64,546.71 445.60,545.75 447.01,545.58" fill="#1a1a1a"/>
<polygon points="451.70,544.30 452.29,545.58 453.70,545.75 452.66,546.71 452.93,548.10 451.70,547.41 450.47,548.10 450.74,546.71 449.70,545.75 451.11,545.58" fill="#1a1a1a"/>
<polygon points="455.80,544.30 456.39,545.58 457.80,545.75 456.76,546.71 457.03,548.10 455.80,547.41 454.57,548.10 454.84,546.71 453.80,545.75 455.21,545.58" fill="#1a1a1a"/>
<text x="375.15" y="675.00" font-size="8.6" text-anchor="middle" font-weight="normal" fill="#222" textLength="12.5" lengthAdjust="spacingAndGlyphs">HM</text>
<text x="405.65" y="675.00" font-size="8.6" text-anchor="middle" font-weight="normal" fill="#222" textLength="30.5" lengthAdjust="spacingAndGlyphs">HM-HLH</text>
<text x="436.40" y="675.00" font-size="8.6" text-anchor="middle" font-weight="normal" fill="#222" textLength="12.5" lengthAdjust="spacingAndGlyphs">HM</text>
<text x="466.40" y="675.00" font-size="8.6" text-anchor="middle" font-weight="normal" fill="#222" textLength="30.5" lengthAdjust="spacingAndGlyphs">HM-HLH</text>
<text x="390.40" y="688.20" font-size="9.8" text-anchor="middle" font-weight="normal" fill="#222" textLength="25.4" lengthAdjust="spacingAndGlyphs">Routine</text>
<text x="390.40" y="698.60" font-size="9.8" text-anchor="middle" font-weight="normal" fill="#222" textLength="42.7" lengthAdjust="spacingAndGlyphs">investigation</text>
<text x="451.40" y="688.20" font-size="9.8" text-anchor="middle" font-weight="normal" fill="#222" textLength="15" lengthAdjust="spacingAndGlyphs">HLH</text>
<text x="451.40" y="698.60" font-size="9.8" text-anchor="middle" font-weight="normal" fill="#222" textLength="33.2" lengthAdjust="spacingAndGlyphs">suspected</text>
<rect x="488.80" y="539.20" width="6.30" height="6.30" fill="#134f81"/>
<text x="498.80" y="545.30" font-size="8" text-anchor="start" font-weight="normal" fill="#222">No</text>
<rect x="488.80" y="550.95" width="6.30" height="6.30" fill="#c8102e"/>
<text x="498.80" y="557.05" font-size="8" text-anchor="start" font-weight="normal" fill="#222">Yes</text>
<rect x="488.80" y="562.70" width="6.30" height="6.30" fill="#bdbdc1"/>
<text x="498.80" y="568.80" font-size="8" text-anchor="start" font-weight="normal" fill="#222">N/A</text>
</svg></body></html>
